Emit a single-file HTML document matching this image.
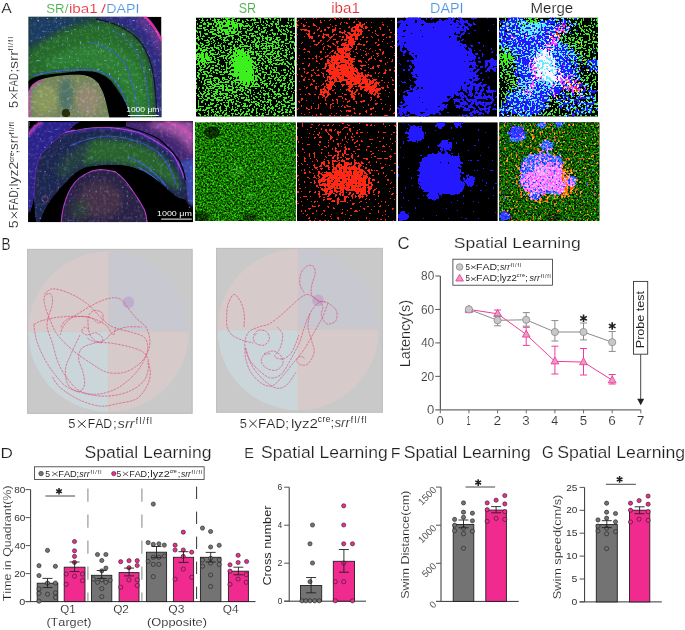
<!DOCTYPE html>
<html><head><meta charset="utf-8"><style>
html,body{margin:0;padding:0;background:#fff;width:685px;height:630px;overflow:hidden}
svg{position:absolute;left:0;top:0;display:block;will-change:transform}
text{font-family:"Liberation Sans", sans-serif;font-variant-ligatures:none;font-kerning:none}
</style></head><body>
<svg width="685" height="630" viewBox="0 0 685 630" font-family='"Liberation Sans", sans-serif'>
<text x="1.2" y="12.8" font-size="15.36" fill="#231f20" textLength="10.53" lengthAdjust="spacingAndGlyphs" stroke="#fff" stroke-width="0.17" >A</text>
<text x="46.3" y="13.0" font-size="13.6" fill="#46aa46" textLength="22.06" lengthAdjust="spacingAndGlyphs" stroke="#fff" stroke-width="0.15" >SR/</text>
<text x="68.91" y="13.0" font-size="13.6" fill="#e62a32" textLength="28.79" lengthAdjust="spacingAndGlyphs" stroke="#fff" stroke-width="0.15" >iba1</text>
<text x="101.0" y="13.0" font-size="13.6" fill="#e62a32" textLength="4.96" lengthAdjust="spacingAndGlyphs" stroke="#fff" stroke-width="0.15" >/</text>
<text x="106.26" y="13.0" font-size="13.6" fill="#4f96e0" textLength="33.17" lengthAdjust="spacingAndGlyphs" stroke="#fff" stroke-width="0.15" >DAPI</text>
<clipPath id="clA1"><rect x="28.5" y="16.7" width="133" height="100.5"/></clipPath>
<filter id="blur1" x="-10%" y="-10%" width="120%" height="120%"><feGaussianBlur stdDeviation="1.5"/></filter>
<filter id="blur2" x="-10%" y="-10%" width="120%" height="120%"><feGaussianBlur stdDeviation="3"/></filter>
<filter id="blur05" x="-10%" y="-10%" width="120%" height="120%"><feGaussianBlur stdDeviation="0.6"/></filter>
<filter id="spkA1" filterUnits="userSpaceOnUse" x="28.5" y="16.7" width="133" height="100.5" color-interpolation-filters="sRGB">
<feTurbulence type="fractalNoise" baseFrequency="0.45" numOctaves="1" seed="31" result="n"/>
<feColorMatrix in="n" type="matrix" values="0 0 0 0 0 0 0 0 0 0 0 0 0 0 0 1 0 0 0 -0.66" result="na"/>
<feComponentTransfer in="na" result="t"><feFuncA type="linear" slope="7" intercept="0"/></feComponentTransfer>
<feComposite in="SourceGraphic" in2="t" operator="in"/>
</filter>
<filter id="grainA" filterUnits="userSpaceOnUse" x="28.5" y="16.7" width="200" height="220" color-interpolation-filters="sRGB">
<feTurbulence type="fractalNoise" baseFrequency="0.3" numOctaves="2" seed="41" result="n"/>
<feColorMatrix in="n" type="matrix" values="0.7 0.3 0 0 -0.5  0.7 0.3 0 0 -0.5  0.7 0.3 0 0 -0.5  0 0 0 0 1" result="nz"/>
<feComposite in="SourceGraphic" in2="nz" operator="arithmetic" k2="1" k3="0.4" k4="0" result="s"/>
<feComposite in="s" in2="SourceAlpha" operator="in"/>
</filter>
<g clip-path="url(#clA1)">
<rect x="28.5" y="16.7" width="133" height="100.5" fill="#000"/>
<g filter="url(#grainA)">
<path d="M28 16 L146 16 Q154 24 162 41 L162 118 L28 118 Z" fill="#1c4034"/>
<path d="M28 16 L105 16 Q75 22 58 32 Q42 42 28 48 Z" fill="#1e3a66" filter="url(#blur2)" opacity="0.9"/>
<path d="M28 52 Q45 40 62 32 Q85 22 105 22 Q128 28 142 45 Q152 62 155 90 L156 118 L131 118 Q126 100 119 90 Q110 78 100 73 Q80 70 58 73 Q42 75 30 80 L28 80 Z" fill="#276a2c" filter="url(#blur2)"/>
<path d="M45 62 Q70 45 100 42 Q125 45 138 66 Q146 85 148 118 L134 118 Q128 96 118 84 Q106 72 90 70 Q66 68 45 70 Z" fill="#2f8234" filter="url(#blur2)" opacity="0.75"/>
<path d="M98 16 L146 16 Q154 24 162 41 L162 118 L157 118 Q156 92 153 70 Q148 48 136 34 Q122 22 100 19 Z" fill="#2e2a80" filter="url(#blur1)"/>
<path d="M140 17 Q152 24 160 40 L162 60 Q156 42 150 32 Q144 24 134 18 Z" fill="#b04aa0" filter="url(#blur2)" opacity="0.7"/>
<path d="M96 19 Q126 24 142 44 Q151 58 154 78 Q156 95 157 117" fill="none" stroke="#160a30" stroke-width="1.1" filter="url(#blur05)"/>
<path d="M33 76 Q60 68 95 70 Q112 74 120 88 Q126 100 129 117" fill="none" stroke="#3a5ad8" stroke-width="1.2" filter="url(#blur05)" opacity="0.9"/>
<path d="M88 42 Q112 46 124 62 Q134 80 138 117" fill="none" stroke="#3a5ad8" stroke-width="1.1" filter="url(#blur05)" opacity="0.8"/>
<path d="M112 30 Q132 40 141 60 Q147 78 149 110" fill="none" stroke="#3a5ad8" stroke-width="1" filter="url(#blur05)" opacity="0.75"/>
<path d="M144 16 Q154 24 162 41" fill="none" stroke="#e02aa8" stroke-width="2.5" filter="url(#blur05)"/>
<path d="M28.4 92 Q30 86 34 83 Q38 80 42 79 Q50 76.5 58 75.8 Q70 74.6 79 74.6 Q86 75 90 76.8 Q95 79 98.3 83 Q101 88 103 92 Q105 97 106.3 103 Q108 110 109.5 118 L28 118 Z" fill="#76845a"/>
<ellipse cx="45" cy="100" rx="13" ry="15" fill="#909e5c" filter="url(#blur2)" opacity="0.75"/>
<ellipse cx="66" cy="96" rx="7" ry="18" fill="#3a6a6a" filter="url(#blur2)" opacity="0.7"/>
<ellipse cx="88" cy="100" rx="12" ry="15" fill="#a08a78" filter="url(#blur2)" opacity="0.7"/>
<path d="M28.4 118 L28.4 92 Q30 86 34 83 Q38 80 42 79" fill="none" stroke="#d02ad0" stroke-width="2.4" filter="url(#blur1)"/>
<ellipse cx="66" cy="113" rx="4.2" ry="4" fill="#2a2a10" filter="url(#blur05)"/>
</g>
<g filter="url(#spkA1)"><path d="M28 16 L146 16 Q154 24 162 41 L162 118 L28 118 Z" fill="#80a8ff"/></g>
<path d="M28 81 Q30 80.5 30.8 79 Q36 76.5 42 75 Q50 74 58 73.5 Q70 72 79 71 Q88 71 93.4 71.6 Q99 72.8 103 75 Q107 77 111 80.7 Q115 86 119 92 Q123 98 125.6 103 Q128.5 109 130.4 118 L109.5 118 Q108 110 106.3 103 Q105 97 103 92 Q101 88 98.3 83 Q95 79 90 76.8 Q86 75 79 74.6 Q70 74.6 58 75.8 Q50 76.5 42 79 Q38 80 34 83 Q30 86 28.4 92 Z" fill="#000" filter="url(#blur05)"/>
</g>
<clipPath id="clA2"><rect x="28.2" y="121" width="164.8" height="101.3"/></clipPath>
<filter id="spkA2" filterUnits="userSpaceOnUse" x="28.2" y="121" width="164.8" height="101.3" color-interpolation-filters="sRGB">
<feTurbulence type="fractalNoise" baseFrequency="0.45" numOctaves="1" seed="33" result="n"/>
<feColorMatrix in="n" type="matrix" values="0 0 0 0 0 0 0 0 0 0 0 0 0 0 0 1 0 0 0 -0.66" result="na"/>
<feComponentTransfer in="na" result="t"><feFuncA type="linear" slope="7" intercept="0"/></feComponentTransfer>
<feComposite in="SourceGraphic" in2="t" operator="in"/>
</filter>
<g clip-path="url(#clA2)">
<rect x="28.2" y="121" width="164.8" height="101.3" fill="#000"/>
<g filter="url(#grainA)">
<path d="M118 121 L194 121 L194 205 L186 200 Q185 185 182 172 Q176 158 165 147 Q150 136 132 130 Q124 128 118 127 Z" fill="#42286e" filter="url(#blur1)"/>
<path d="M150 121 L194 121 L194 160 Q188 146 178 138 Q165 130 150 127 Z" fill="#b05aa8" filter="url(#blur2)" opacity="0.85"/>
<path d="M165 121 Q186 126 193 140" fill="none" stroke="#e050c0" stroke-width="2.2" filter="url(#blur1)"/>
<path d="M180 162 Q186 175 187 190 L188 204 L194 208 L194 158 Z" fill="#3848a8" filter="url(#blur1)"/>
<path d="M64.8 132.3 Q80 128.5 96 127.2 Q120 127 140 133 Q158 141 172 153 Q180 165 184 178 Q186 190 186 200 L177.4 197.4 Q170 192.4 160 182.5 Q150 175 142.6 171.3 Q130 166 120 165 Q100 164.5 85.6 167.6 Q76 171 70.7 177.6 Q60 188 50.8 200 Q44 210 40 222 L36 222 Q34 210 34 198 Q34 185 36 169 Q38 160 41.3 153.8 Q52 142 64.8 132.3 Z" fill="#1e2650" filter="url(#blur05)"/>
<path d="M90 140 Q120 136 148 146 Q165 156 176 172 Q180 182 182 192 Q176 188 168 184 Q156 176 142 170 Q125 164 105 163 Q92 163 82 166 Q84 150 90 140 Z" fill="#2a6a2c" filter="url(#blur2)" opacity="0.9"/>
<path d="M55 172 Q60 158 72 150 Q82 144 92 141 Q86 155 82 166 Q72 172 64 180 Z" fill="#264a38" filter="url(#blur2)" opacity="0.7"/>
<path d="M64.8 132.3 Q80 128.5 96 127.2 Q120 127 140 133 Q158 141 172 153 Q180 165 184 178" fill="none" stroke="#3a2aa0" stroke-width="5" filter="url(#blur1)" opacity="0.8"/>
<path d="M64.8 132.3 Q80 128.5 96 127.2 Q120 127 140 133 Q158 141 172 153 Q180 165 184 178" fill="none" stroke="#b040c0" stroke-width="1.3" filter="url(#blur05)"/>
<path d="M28 133 Q33 125 41 122 L81 121.5 Q76 124 72 127 Q68 129.5 64.8 132.3 Q52 142 41.3 153.8 Q38 160 36 169 Q34 185 34 198 Q33 205 31 210 L28 212 Z" fill="#2a2288" filter="url(#blur05)"/>
<path d="M28 136 Q32 126 42 122" fill="none" stroke="#d040c8" stroke-width="3.2" filter="url(#blur1)"/>
<path d="M80 122 Q70 128 64.8 132.3 Q52 142 41.3 153.8 Q38 160 36 169 Q34 185 34 198" fill="none" stroke="#7a30b0" stroke-width="1" filter="url(#blur05)" opacity="0.8"/>
<path d="M70 146 Q90 136 110 136 Q138 138 158 152 Q170 164 176 184" fill="none" stroke="#3a52d0" stroke-width="1.2" filter="url(#blur05)" opacity="0.8"/>
<path d="M128 157 Q150 165 166 186" fill="none" stroke="#3a5ae0" stroke-width="1.3" filter="url(#blur05)"/>
<path d="M138 167 Q155 175 168 193" fill="none" stroke="#3a5ae0" stroke-width="1.3" filter="url(#blur05)"/>
<path d="M60.7 222 Q62 205 68 192.4 Q74 180 83 175 Q92 169 100.4 168.9 Q108 169 115.3 171.3 Q125 178 132.7 190 Q140 200 145 209.8 Q147 215 147.6 222 Z" fill="#2a2444" filter="url(#blur05)"/>
<ellipse cx="100" cy="200" rx="22" ry="18" fill="#503848" filter="url(#blur2)" opacity="0.7"/>
<ellipse cx="80" cy="210" rx="10" ry="10" fill="#2a4a30" filter="url(#blur2)" opacity="0.6"/>
<path d="M60.7 222 Q62 205 68 192.4 Q74 180 83 175 Q92 169 100.4 168.9 Q108 169 115.3 171.3 Q125 178 132.7 190 Q140 200 145 209.8 Q147 215 147.6 222" fill="none" stroke="#c038d0" stroke-width="2" filter="url(#blur05)"/>
</g>
<g filter="url(#spkA2)" opacity="0.75"><path d="M28 122 L194 122 L194 222 L28 222 Z" fill="#7078ff"/></g>
<path d="M81 121 L126 121 L126 126.6 Q110 126.6 96 127 Q84 128 76 130 Q72 128 72 127 Q76 124 81 121 Z" fill="#000" filter="url(#blur05)"/>
<path d="M118 125.5 Q140 129 158 138.5 Q172 149 180 162 Q184 170 185.5 180" fill="none" stroke="#000" stroke-width="1.2" filter="url(#blur05)"/>
<path d="M28 212 Q32 214 36 222 L28 222 Z" fill="#000" filter="url(#blur05)"/>
<path d="M40 222 Q44 210 50.8 200 Q60 188 70.7 177.6 Q78 170 88 167 Q100 164.5 120 165 Q132 166 142.6 171.3 Q152 176 160 182.5 Q170 192.4 177.4 197.4 Q182 201 186 204 L190 210 L194 212 L194 222 L147.6 222 Q147 215 145 209.8 Q140 200 132.7 190 Q125 178 115.3 171.3 Q108 169 100.4 168.9 Q92 169 83 175 Q74 180 68 192.4 Q62 205 60.7 222 Z" fill="#000" filter="url(#blur05)"/>
<circle cx="45" cy="199" r="3.2" fill="none" stroke="#a05a8a" stroke-width="0.6"/>
</g>
<text x="126.2" y="112.4" font-size="7.4" fill="#fff" textLength="33.2" lengthAdjust="spacingAndGlyphs">1000 μm</text>
<rect x="127.9" y="115" width="30.9" height="1" fill="#fff"/>
<text x="157" y="215.5" font-size="7.4" fill="#fff" textLength="34.8" lengthAdjust="spacingAndGlyphs">1000 μm</text>
<rect x="161.2" y="218.6" width="30.6" height="1" fill="#fff"/><defs>
<clipPath id="cl_sr1"><rect x="196" y="17.5" width="99" height="99.2"/></clipPath>
<clipPath id="cl_ib1"><rect x="296.5" y="17.5" width="98.5" height="99.2"/></clipPath>
<clipPath id="cl_da1"><rect x="397" y="17.5" width="100" height="99.2"/></clipPath>
<clipPath id="cl_me1"><rect x="499" y="17.5" width="99" height="99.2"/></clipPath>
<clipPath id="cl_sr2"><rect x="194.9" y="122.2" width="101" height="98.8"/></clipPath>
<clipPath id="cl_ib2"><rect x="297" y="122.2" width="99.5" height="98.8"/></clipPath>
<clipPath id="cl_da2"><rect x="397.8" y="122.2" width="100" height="98.8"/></clipPath>
<clipPath id="cl_me2"><rect x="499.2" y="122.2" width="100.2" height="98.8"/></clipPath>
</defs>
<g clip-path="url(#cl_sr1)">
<rect x="196" y="17.5" width="99" height="99.2" fill="#000"/>
<filter id="f_sr1" filterUnits="userSpaceOnUse" x="-1" y="-1" width="101" height="102" color-interpolation-filters="sRGB">
<feGaussianBlur in="SourceAlpha" stdDeviation="3.2" result="d"/>
<feTurbulence type="fractalNoise" baseFrequency="0.5" numOctaves="1" seed="4" result="n"/>
<feColorMatrix in="n" type="matrix" values="0 0 0 0 0 0 0 0 0 0 0 0 0 0 0 1 0 0 0 0" result="na"/>
<feComposite in="d" in2="na" operator="arithmetic" k1="0" k2="0.35" k3="1" k4="-0.1" result="s"/>
<feComponentTransfer in="s" result="t"><feFuncA type="discrete" tableValues="0 1"/></feComponentTransfer>
<feFlood flood-color="#3cf01e" result="c"/>
<feComposite in="c" in2="t" operator="in"/>
</filter>
<g filter="url(#f_sr1)" transform="translate(196 17.5)" fill="#000">
<rect x="0" y="0" width="99" height="100" fill-opacity="0"/>
<rect x="0" y="0" width="99" height="100" fill-opacity="0.17"/>
<ellipse cx="47" cy="49.5" rx="10" ry="18" fill-opacity="0.85" transform="rotate(-12 47 49.5)"/>
<ellipse cx="50" cy="55" rx="6" ry="8" fill-opacity="0.4" transform="rotate(0 50 55)"/>
<ellipse cx="32" cy="9" rx="13" ry="7" fill-opacity="0.5" transform="rotate(0 32 9)"/>
<ellipse cx="7" cy="40" rx="8" ry="9" fill-opacity="0.45" transform="rotate(0 7 40)"/>
<ellipse cx="25" cy="72" rx="15" ry="10" fill-opacity="0.2" transform="rotate(0 25 72)"/>
<ellipse cx="70" cy="30" rx="14" ry="12" fill-opacity="0.15" transform="rotate(0 70 30)"/>
</g>
</g>
<g clip-path="url(#cl_ib1)">
<rect x="296.5" y="17.5" width="98.5" height="99.2" fill="#000"/>
<filter id="f_ib1" filterUnits="userSpaceOnUse" x="-1" y="-1" width="101" height="102" color-interpolation-filters="sRGB">
<feGaussianBlur in="SourceAlpha" stdDeviation="2.2" result="d"/>
<feTurbulence type="fractalNoise" baseFrequency="0.42" numOctaves="1" seed="7" result="n"/>
<feColorMatrix in="n" type="matrix" values="0 0 0 0 0 0 0 0 0 0 0 0 0 0 0 1 0 0 0 0" result="na"/>
<feComposite in="d" in2="na" operator="arithmetic" k1="0" k2="0.3" k3="1" k4="-0.165" result="s"/>
<feComponentTransfer in="s" result="t"><feFuncA type="discrete" tableValues="0 1"/></feComponentTransfer>
<feFlood flood-color="#ff2814" result="c"/>
<feComposite in="c" in2="t" operator="in"/>
</filter>
<g filter="url(#f_ib1)" transform="translate(296.5 17.5)" fill="#000">
<rect x="0" y="0" width="99" height="100" fill-opacity="0"/>
<path d="M62 4 L69 8 L54 31 L46 42 L36 40 L50 22 Z" fill-opacity="1"/>
<ellipse cx="44" cy="50" rx="14" ry="15" fill-opacity="1" transform="rotate(0 44 50)"/>
<path d="M40 40 L60 54 L75 61 L85 72 L80 79 L66 71 L50 63 Z" fill-opacity="1"/>
<path d="M36 55 L27 68 L23 79 L30 81 L39 66 Z" fill-opacity="0.8"/>
<path d="M48 58 L54 80 L60 86 L58 70 Z" fill-opacity="0.7"/>
<path d="M1 7 L18 28 L21 24 L6 3 Z" fill-opacity="0.6"/>
<ellipse cx="50" cy="52" rx="42" ry="42" fill-opacity="0.15" transform="rotate(0 50 52)"/>
<ellipse cx="40" cy="15" rx="25" ry="10" fill-opacity="0.15" transform="rotate(0 40 15)"/>
</g>
</g>
<g clip-path="url(#cl_da1)">
<rect x="397" y="17.5" width="100" height="99.2" fill="#000"/>
<filter id="f_da1" filterUnits="userSpaceOnUse" x="-1" y="-1" width="102" height="102" color-interpolation-filters="sRGB">
<feGaussianBlur in="SourceAlpha" stdDeviation="3" result="d"/>
<feTurbulence type="fractalNoise" baseFrequency="0.33" numOctaves="1" seed="11" result="n"/>
<feColorMatrix in="n" type="matrix" values="0 0 0 0 0 0 0 0 0 0 0 0 0 0 0 1 0 0 0 0" result="na"/>
<feComposite in="d" in2="na" operator="arithmetic" k1="0" k2="0.5" k3="1" k4="-0.2" result="s"/>
<feComponentTransfer in="s" result="t"><feFuncA type="discrete" tableValues="0 1"/></feComponentTransfer>
<feFlood flood-color="#2418ff" result="c"/>
<feComposite in="c" in2="t" operator="in"/>
</filter>
<g filter="url(#f_da1)" transform="translate(397 17.5)" fill="#000">
<rect x="0" y="0" width="100" height="100" fill-opacity="0"/>
<ellipse cx="44" cy="48" rx="28" ry="32" fill-opacity="1" transform="rotate(0 44 48)"/>
<ellipse cx="18" cy="18" rx="20" ry="18" fill-opacity="0.8" transform="rotate(0 18 18)"/>
<ellipse cx="44" cy="12" rx="14" ry="9" fill-opacity="0.75" transform="rotate(0 44 12)"/>
<ellipse cx="28" cy="84" rx="22" ry="15" fill-opacity="0.85" transform="rotate(0 28 84)"/>
<ellipse cx="58" cy="8" rx="18" ry="9" fill-opacity="0.6" transform="rotate(0 58 8)"/>
<ellipse cx="78" cy="82" rx="22" ry="18" fill-opacity="0.45" transform="rotate(0 78 82)"/>
<ellipse cx="95" cy="47" rx="6" ry="7" fill-opacity="0.9" transform="rotate(0 95 47)"/>
<ellipse cx="74" cy="50" rx="10" ry="22" fill-opacity="0.5" transform="rotate(0 74 50)"/>
<ellipse cx="5" cy="95" rx="8" ry="8" fill-opacity="0.5" transform="rotate(0 5 95)"/>
</g>
</g>
<g clip-path="url(#cl_sr2)">
<rect x="194.9" y="122.2" width="101" height="98.8" fill="#000"/>
<filter id="f_sr2" filterUnits="userSpaceOnUse" x="194.9" y="122.2" width="101" height="99" color-interpolation-filters="sRGB">
<feTurbulence type="fractalNoise" baseFrequency="0.55" numOctaves="2" seed="21" result="n"/>
<feColorMatrix in="n" type="matrix" values="0.374 0 0 0 -0.103  1.7 0 0 0 -0.47  0 0 0 0 0  0 0 0 0 1" result="g"/>
<feComposite in="g" in2="SourceGraphic" operator="arithmetic" k1="0" k2="1" k3="1" k4="0" result="s"/>
<feComposite in="s" in2="SourceAlpha" operator="in"/>
</filter>
<g filter="url(#f_sr2)"><rect x="194.9" y="122.2" width="101" height="99" fill="#001400"/></g>
<g transform="translate(194.9 122.2)" fill="#4c4" style="mix-blend-mode:screen" opacity="0.22">
<ellipse cx="42" cy="48" rx="7" ry="6"/><ellipse cx="55" cy="74" rx="4" ry="4"/>
</g>
<g transform="translate(194.9 122.2)" fill="#000">
<ellipse cx="17" cy="10" rx="8" ry="6" opacity="0.6"/>
<ellipse cx="6" cy="95" rx="8" ry="6" opacity="0.5"/>
<ellipse cx="55" cy="95" rx="8" ry="4" opacity="0.4"/>
</g>
</g>
<g clip-path="url(#cl_ib2)">
<rect x="297" y="122.2" width="99.5" height="98.8" fill="#000"/>
<filter id="f_ib2" filterUnits="userSpaceOnUse" x="-1" y="-1" width="102" height="101" color-interpolation-filters="sRGB">
<feGaussianBlur in="SourceAlpha" stdDeviation="2.5" result="d"/>
<feTurbulence type="fractalNoise" baseFrequency="0.42" numOctaves="1" seed="13" result="n"/>
<feColorMatrix in="n" type="matrix" values="0 0 0 0 0 0 0 0 0 0 0 0 0 0 0 1 0 0 0 0" result="na"/>
<feComposite in="d" in2="na" operator="arithmetic" k1="0" k2="0.3" k3="1" k4="-0.165" result="s"/>
<feComponentTransfer in="s" result="t"><feFuncA type="discrete" tableValues="0 1"/></feComponentTransfer>
<feFlood flood-color="#ff2814" result="c"/>
<feComposite in="c" in2="t" operator="in"/>
</filter>
<g filter="url(#f_ib2)" transform="translate(297 122.2)" fill="#000">
<rect x="0" y="0" width="100" height="99" fill-opacity="0"/>
<ellipse cx="52" cy="55" rx="17" ry="13" fill-opacity="1" transform="rotate(25 52 55)"/>
<ellipse cx="35" cy="60" rx="11" ry="11" fill-opacity="0.9" transform="rotate(0 35 60)"/>
<ellipse cx="66" cy="65" rx="9" ry="9" fill-opacity="0.95" transform="rotate(0 66 65)"/>
<ellipse cx="46" cy="55" rx="30" ry="28" fill-opacity="0.4" transform="rotate(0 46 55)"/>
<ellipse cx="40" cy="15" rx="25" ry="10" fill-opacity="0.2" transform="rotate(0 40 15)"/>
</g>
</g>
<g clip-path="url(#cl_da2)">
<rect x="397.8" y="122.2" width="100" height="98.8" fill="#000"/>
<filter id="f_da2" filterUnits="userSpaceOnUse" x="-1" y="-1" width="102" height="101" color-interpolation-filters="sRGB">
<feGaussianBlur in="SourceAlpha" stdDeviation="1.4" result="d"/>
<feTurbulence type="fractalNoise" baseFrequency="0.4" numOctaves="1" seed="17" result="n"/>
<feColorMatrix in="n" type="matrix" values="0 0 0 0 0 0 0 0 0 0 0 0 0 0 0 1 0 0 0 0" result="na"/>
<feComposite in="d" in2="na" operator="arithmetic" k1="0" k2="0.5" k3="1" k4="-0.23" result="s"/>
<feComponentTransfer in="s" result="t"><feFuncA type="discrete" tableValues="0 1"/></feComponentTransfer>
<feFlood flood-color="#2418ff" result="c"/>
<feComposite in="c" in2="t" operator="in"/>
</filter>
<g filter="url(#f_da2)" transform="translate(397.8 122.2)" fill="#000">
<rect x="0" y="0" width="100" height="99" fill-opacity="0"/>
<ellipse cx="17.6" cy="11.8" rx="8.5" ry="8.5" fill-opacity="1" transform="rotate(0 17.6 11.8)"/>
<ellipse cx="47.6" cy="23.1" rx="5.8" ry="5.8" fill-opacity="1" transform="rotate(0 47.6 23.1)"/>
<ellipse cx="42.7" cy="1.5" rx="4.5" ry="4.5" fill-opacity="1" transform="rotate(0 42.7 1.5)"/>
<ellipse cx="59.7" cy="0.8" rx="4.5" ry="4.5" fill-opacity="1" transform="rotate(0 59.7 0.8)"/>
<ellipse cx="71.9" cy="58.8" rx="5.5" ry="5.5" fill-opacity="1" transform="rotate(0 71.9 58.8)"/>
<ellipse cx="35.5" cy="72.5" rx="6" ry="6" fill-opacity="1" transform="rotate(0 35.5 72.5)"/>
<ellipse cx="5.5" cy="94.4" rx="5" ry="5" fill-opacity="1" transform="rotate(0 5.5 94.4)"/>
<ellipse cx="42" cy="51" rx="21" ry="21" fill-opacity="1" transform="rotate(0 42 51)"/>
<ellipse cx="32" cy="42" rx="10" ry="9" fill-opacity="1" transform="rotate(0 32 42)"/>
<ellipse cx="55" cy="40" rx="9" ry="8" fill-opacity="1" transform="rotate(0 55 40)"/>
<ellipse cx="56" cy="64" rx="10" ry="9" fill-opacity="1" transform="rotate(0 56 64)"/>
<ellipse cx="30" cy="62" rx="9" ry="8" fill-opacity="1" transform="rotate(0 30 62)"/>
</g>
</g>
<g clip-path="url(#cl_me1)"><rect x="499" y="17.5" width="99" height="99.2" fill="#000"/>
<g style="isolation:isolate">
<filter id="fm_sr1" filterUnits="userSpaceOnUse" x="-1" y="-1" width="101" height="102" color-interpolation-filters="sRGB">
<feGaussianBlur in="SourceAlpha" stdDeviation="3.2" result="d"/>
<feTurbulence type="fractalNoise" baseFrequency="0.5" numOctaves="1" seed="4" result="n"/>
<feColorMatrix in="n" type="matrix" values="0 0 0 0 0 0 0 0 0 0 0 0 0 0 0 1 0 0 0 0" result="na"/>
<feComposite in="d" in2="na" operator="arithmetic" k1="0" k2="0.35" k3="1" k4="-0.11" result="s"/>
<feComponentTransfer in="s" result="t"><feFuncA type="discrete" tableValues="0 1"/></feComponentTransfer>
<feFlood flood-color="#3cf01e" result="c"/>
<feComposite in="c" in2="t" operator="in"/>
</filter>
<g filter="url(#fm_sr1)" transform="translate(499 17.5)" fill="#000">
<rect x="0" y="0" width="99" height="100" fill-opacity="0"/>
<rect x="0" y="0" width="99" height="100" fill-opacity="0.17"/>
<ellipse cx="47" cy="49.5" rx="10" ry="18" fill-opacity="0.85" transform="rotate(-12 47 49.5)"/>
<ellipse cx="50" cy="55" rx="6" ry="8" fill-opacity="0.4" transform="rotate(0 50 55)"/>
<ellipse cx="32" cy="9" rx="13" ry="7" fill-opacity="0.5" transform="rotate(0 32 9)"/>
<ellipse cx="7" cy="40" rx="8" ry="9" fill-opacity="0.45" transform="rotate(0 7 40)"/>
<ellipse cx="25" cy="72" rx="15" ry="10" fill-opacity="0.2" transform="rotate(0 25 72)"/>
<ellipse cx="70" cy="30" rx="14" ry="12" fill-opacity="0.15" transform="rotate(0 70 30)"/>
</g>
<g style="mix-blend-mode:screen">
<filter id="fm_ib1" filterUnits="userSpaceOnUse" x="-1" y="-1" width="101" height="102" color-interpolation-filters="sRGB">
<feGaussianBlur in="SourceAlpha" stdDeviation="2.2" result="d"/>
<feTurbulence type="fractalNoise" baseFrequency="0.42" numOctaves="1" seed="7" result="n"/>
<feColorMatrix in="n" type="matrix" values="0 0 0 0 0 0 0 0 0 0 0 0 0 0 0 1 0 0 0 0" result="na"/>
<feComposite in="d" in2="na" operator="arithmetic" k1="0" k2="0.3" k3="1" k4="-0.245" result="s"/>
<feComponentTransfer in="s" result="t"><feFuncA type="discrete" tableValues="0 1"/></feComponentTransfer>
<feFlood flood-color="#ff2814" result="c"/>
<feComposite in="c" in2="t" operator="in"/>
</filter>
<g filter="url(#fm_ib1)" transform="translate(499 17.5)" fill="#000">
<rect x="0" y="0" width="99" height="100" fill-opacity="0"/>
<path d="M62 4 L69 8 L54 31 L46 42 L36 40 L50 22 Z" fill-opacity="1"/>
<ellipse cx="44" cy="50" rx="14" ry="15" fill-opacity="1" transform="rotate(0 44 50)"/>
<path d="M40 40 L60 54 L75 61 L85 72 L80 79 L66 71 L50 63 Z" fill-opacity="1"/>
<path d="M36 55 L27 68 L23 79 L30 81 L39 66 Z" fill-opacity="0.8"/>
<path d="M48 58 L54 80 L60 86 L58 70 Z" fill-opacity="0.7"/>
<path d="M1 7 L18 28 L21 24 L6 3 Z" fill-opacity="0.6"/>
<ellipse cx="50" cy="52" rx="42" ry="42" fill-opacity="0.15" transform="rotate(0 50 52)"/>
<ellipse cx="40" cy="15" rx="25" ry="10" fill-opacity="0.15" transform="rotate(0 40 15)"/>
</g>
</g>
<g style="mix-blend-mode:screen">
<filter id="fm_da1" filterUnits="userSpaceOnUse" x="-1" y="-1" width="102" height="102" color-interpolation-filters="sRGB">
<feGaussianBlur in="SourceAlpha" stdDeviation="3" result="d"/>
<feTurbulence type="fractalNoise" baseFrequency="0.33" numOctaves="1" seed="11" result="n"/>
<feColorMatrix in="n" type="matrix" values="0 0 0 0 0 0 0 0 0 0 0 0 0 0 0 1 0 0 0 0" result="na"/>
<feComposite in="d" in2="na" operator="arithmetic" k1="0" k2="0.5" k3="1" k4="-0.22" result="s"/>
<feComponentTransfer in="s" result="t"><feFuncA type="discrete" tableValues="0 1"/></feComponentTransfer>
<feFlood flood-color="#2418ff" result="c"/>
<feComposite in="c" in2="t" operator="in"/>
</filter>
<g filter="url(#fm_da1)" transform="translate(499 17.5)" fill="#000">
<rect x="0" y="0" width="100" height="100" fill-opacity="0"/>
<ellipse cx="44" cy="48" rx="28" ry="32" fill-opacity="1" transform="rotate(0 44 48)"/>
<ellipse cx="18" cy="18" rx="20" ry="18" fill-opacity="0.8" transform="rotate(0 18 18)"/>
<ellipse cx="44" cy="12" rx="14" ry="9" fill-opacity="0.75" transform="rotate(0 44 12)"/>
<ellipse cx="28" cy="84" rx="22" ry="15" fill-opacity="0.85" transform="rotate(0 28 84)"/>
<ellipse cx="58" cy="8" rx="18" ry="9" fill-opacity="0.6" transform="rotate(0 58 8)"/>
<ellipse cx="78" cy="82" rx="22" ry="18" fill-opacity="0.45" transform="rotate(0 78 82)"/>
<ellipse cx="95" cy="47" rx="6" ry="7" fill-opacity="0.9" transform="rotate(0 95 47)"/>
<ellipse cx="74" cy="50" rx="10" ry="22" fill-opacity="0.5" transform="rotate(0 74 50)"/>
<ellipse cx="5" cy="95" rx="8" ry="8" fill-opacity="0.5" transform="rotate(0 5 95)"/>
</g>
</g>
</g></g>
<g clip-path="url(#cl_me2)"><rect x="499.2" y="122.2" width="100.2" height="98.8" fill="#000"/>
<g style="isolation:isolate">
<filter id="fm_sr2" filterUnits="userSpaceOnUse" x="499.2" y="122.2" width="101" height="99" color-interpolation-filters="sRGB">
<feTurbulence type="fractalNoise" baseFrequency="0.55" numOctaves="2" seed="21" result="n"/>
<feColorMatrix in="n" type="matrix" values="0.374 0 0 0 -0.125  1.7 0 0 0 -0.57  0 0 0 0 0  0 0 0 0 1" result="g"/>
<feComposite in="g" in2="SourceGraphic" operator="arithmetic" k1="0" k2="1" k3="1" k4="0" result="s"/>
<feComposite in="s" in2="SourceAlpha" operator="in"/>
</filter>
<g filter="url(#fm_sr2)"><rect x="499.2" y="122.2" width="101" height="99" fill="#001400"/></g>
<g transform="translate(499.2 122.2)" fill="#4c4" style="mix-blend-mode:screen" opacity="0.22">
<ellipse cx="42" cy="48" rx="7" ry="6"/><ellipse cx="55" cy="74" rx="4" ry="4"/>
</g>
<g transform="translate(499.2 122.2)" fill="#000">
<ellipse cx="17" cy="10" rx="8" ry="6" opacity="0.6"/>
<ellipse cx="6" cy="95" rx="8" ry="6" opacity="0.5"/>
<ellipse cx="55" cy="95" rx="8" ry="4" opacity="0.4"/>
</g>
<g style="mix-blend-mode:screen">
<filter id="fm_ib2" filterUnits="userSpaceOnUse" x="-1" y="-1" width="102" height="101" color-interpolation-filters="sRGB">
<feGaussianBlur in="SourceAlpha" stdDeviation="2.5" result="d"/>
<feTurbulence type="fractalNoise" baseFrequency="0.42" numOctaves="1" seed="13" result="n"/>
<feColorMatrix in="n" type="matrix" values="0 0 0 0 0 0 0 0 0 0 0 0 0 0 0 1 0 0 0 0" result="na"/>
<feComposite in="d" in2="na" operator="arithmetic" k1="0" k2="0.3" k3="1" k4="-0.165" result="s"/>
<feComponentTransfer in="s" result="t"><feFuncA type="discrete" tableValues="0 1"/></feComponentTransfer>
<feFlood flood-color="#ff2814" result="c"/>
<feComposite in="c" in2="t" operator="in"/>
</filter>
<g filter="url(#fm_ib2)" transform="translate(499.2 122.2)" fill="#000">
<rect x="0" y="0" width="100" height="99" fill-opacity="0"/>
<ellipse cx="52" cy="55" rx="17" ry="13" fill-opacity="1" transform="rotate(25 52 55)"/>
<ellipse cx="35" cy="60" rx="11" ry="11" fill-opacity="0.9" transform="rotate(0 35 60)"/>
<ellipse cx="66" cy="65" rx="9" ry="9" fill-opacity="0.95" transform="rotate(0 66 65)"/>
<ellipse cx="46" cy="55" rx="30" ry="28" fill-opacity="0.4" transform="rotate(0 46 55)"/>
<ellipse cx="40" cy="15" rx="25" ry="10" fill-opacity="0.2" transform="rotate(0 40 15)"/>
</g>
</g>
<g style="mix-blend-mode:screen">
<filter id="fm_da2" filterUnits="userSpaceOnUse" x="-1" y="-1" width="102" height="101" color-interpolation-filters="sRGB">
<feGaussianBlur in="SourceAlpha" stdDeviation="1.4" result="d"/>
<feTurbulence type="fractalNoise" baseFrequency="0.4" numOctaves="1" seed="17" result="n"/>
<feColorMatrix in="n" type="matrix" values="0 0 0 0 0 0 0 0 0 0 0 0 0 0 0 1 0 0 0 0" result="na"/>
<feComposite in="d" in2="na" operator="arithmetic" k1="0" k2="0.5" k3="1" k4="-0.23" result="s"/>
<feComponentTransfer in="s" result="t"><feFuncA type="discrete" tableValues="0 1"/></feComponentTransfer>
<feFlood flood-color="#2418ff" result="c"/>
<feComposite in="c" in2="t" operator="in"/>
</filter>
<g filter="url(#fm_da2)" transform="translate(499.2 122.2)" fill="#000">
<rect x="0" y="0" width="100" height="99" fill-opacity="0"/>
<ellipse cx="17.6" cy="11.8" rx="8.5" ry="8.5" fill-opacity="1" transform="rotate(0 17.6 11.8)"/>
<ellipse cx="47.6" cy="23.1" rx="5.8" ry="5.8" fill-opacity="1" transform="rotate(0 47.6 23.1)"/>
<ellipse cx="42.7" cy="1.5" rx="4.5" ry="4.5" fill-opacity="1" transform="rotate(0 42.7 1.5)"/>
<ellipse cx="59.7" cy="0.8" rx="4.5" ry="4.5" fill-opacity="1" transform="rotate(0 59.7 0.8)"/>
<ellipse cx="71.9" cy="58.8" rx="5.5" ry="5.5" fill-opacity="1" transform="rotate(0 71.9 58.8)"/>
<ellipse cx="35.5" cy="72.5" rx="6" ry="6" fill-opacity="1" transform="rotate(0 35.5 72.5)"/>
<ellipse cx="5.5" cy="94.4" rx="5" ry="5" fill-opacity="1" transform="rotate(0 5.5 94.4)"/>
<ellipse cx="42" cy="51" rx="21" ry="21" fill-opacity="1" transform="rotate(0 42 51)"/>
<ellipse cx="32" cy="42" rx="10" ry="9" fill-opacity="1" transform="rotate(0 32 42)"/>
<ellipse cx="55" cy="40" rx="9" ry="8" fill-opacity="1" transform="rotate(0 55 40)"/>
<ellipse cx="56" cy="64" rx="10" ry="9" fill-opacity="1" transform="rotate(0 56 64)"/>
<ellipse cx="30" cy="62" rx="9" ry="8" fill-opacity="1" transform="rotate(0 30 62)"/>
</g>
</g>
</g></g>
<text x="238.63" y="13.3" font-size="13.71" fill="#46aa46" textLength="17.49" lengthAdjust="spacingAndGlyphs" stroke="#fff" stroke-width="0.15" >SR</text>
<text x="331.21" y="13.3" font-size="14.07" fill="#e62a32" textLength="28.68" lengthAdjust="spacingAndGlyphs" stroke="#fff" stroke-width="0.15" >iba1</text>
<text x="430.05" y="13.3" font-size="13.91" fill="#4f96e0" textLength="33.5" lengthAdjust="spacingAndGlyphs" stroke="#fff" stroke-width="0.15" >DAPI</text>
<text x="530.49" y="13.3" font-size="13.91" fill="#231f20" textLength="42.78" lengthAdjust="spacingAndGlyphs" stroke="#fff" stroke-width="0.15" >Merge</text>
<text transform="translate(17.8 107.5) rotate(-90)" x="-0.51" y="0" font-size="12.0" fill="#231f20" textLength="7.03" lengthAdjust="spacingAndGlyphs" stroke="#fff" stroke-width="0.13" >5</text>
<path d="M11.50 93.30L17.00 98.80M17.00 93.30L11.50 98.80" stroke="#231f20" stroke-width="0.85" fill="none"/>
<text transform="translate(17.8 91.2) rotate(-90)" x="-0.76" y="0" font-size="12.0" fill="#231f20" textLength="18.59" lengthAdjust="spacingAndGlyphs" stroke="#fff" stroke-width="0.13" >FAD</text>
<text transform="translate(17.8 72.0) rotate(-90)" x="-0.13" y="0" font-size="12.0" fill="#231f20" stroke="#fff" stroke-width="0.13" >;</text>
<text transform="translate(17.8 68.3) rotate(-90)" x="-0.47" y="0" font-size="12.0" fill="#231f20" textLength="18.12" lengthAdjust="spacingAndGlyphs" stroke="#fff" stroke-width="0.13" >srr</text>
<text transform="translate(13.2 50.3) rotate(-90)" x="-0.16" y="0" font-size="6.6" fill="#231f20" textLength="13.37" lengthAdjust="spacing" >fl/fl</text>
<text transform="translate(17.8 227.6) rotate(-90)" x="-0.57" y="0" font-size="12.6" fill="#231f20" textLength="7.96" lengthAdjust="spacingAndGlyphs" stroke="#fff" stroke-width="0.14" >5</text>
<path d="M11.50 211.90L16.90 218.20M16.90 211.90L11.50 218.20" stroke="#231f20" stroke-width="0.85" fill="none"/>
<text transform="translate(17.8 209.4) rotate(-90)" x="-0.81" y="0" font-size="12.6" fill="#231f20" textLength="19.77" lengthAdjust="spacingAndGlyphs" stroke="#fff" stroke-width="0.14" >FAD</text>
<text transform="translate(17.8 190.0) rotate(-90)" x="-0.26" y="0" font-size="12.6" fill="#231f20" stroke="#fff" stroke-width="0.14" >;</text>
<text transform="translate(17.8 185.6) rotate(-90)" x="-0.91" y="0" font-size="12.6" fill="#231f20" textLength="24.85" lengthAdjust="spacingAndGlyphs" stroke="#fff" stroke-width="0.14" >lyz2</text>
<text transform="translate(14.0 161.9) rotate(-90)" x="-0.28" y="0" font-size="6.8" fill="#231f20" textLength="9.69" lengthAdjust="spacing" >cre</text>
<text transform="translate(17.8 152.4) rotate(-90)" x="-1.2" y="0" font-size="12.0" fill="#231f20" textLength="19.25" lengthAdjust="spacingAndGlyphs" stroke="#fff" stroke-width="0.13" >;srr</text>
<text transform="translate(13.6 134.0) rotate(-90)" x="-0.14" y="0" font-size="7.0" fill="#231f20" textLength="12.08" lengthAdjust="spacing" >fl/fl</text>
<text x="1.52" y="249.9" font-size="15.94" fill="#231f20" textLength="8.98" lengthAdjust="spacingAndGlyphs" stroke="#fff" stroke-width="0.18" >B</text>
<rect x="27.0" y="248.9" width="165.6" height="164.9" fill="#c9c9c9"/>
<rect x="27.5" y="249.4" width="164.6" height="163.9" fill="none" stroke="#bfbfbf" stroke-width="1"/>
<clipPath id="c27"><circle cx="108.6" cy="331.6" r="80.3"/></clipPath>
<g clip-path="url(#c27)">
<rect x="28.299999999999997" y="251.3" width="80.3" height="80.3" fill="#d6cacb"/>
<rect x="108.6" y="251.3" width="80.3" height="80.3" fill="#c8c8d0"/>
<rect x="28.299999999999997" y="331.6" width="80.3" height="80.3" fill="#cad6d9"/>
<rect x="108.6" y="331.6" width="80.3" height="80.3" fill="#d6cbca"/>
<line x1="108.6" y1="251.3" x2="108.6" y2="411.90000000000003" stroke="#dcc4b4" stroke-width="0.6"/>
<line x1="28.299999999999997" y1="331.6" x2="188.89999999999998" y2="331.6" stroke="#dcc4b4" stroke-width="0.6"/>
</g>
<circle cx="128.4" cy="302.4" r="5.8" fill="#bcaacb" opacity="0.9"/>
<path d="M60.8 327.1C61.6 326.0 63.4 322.1 65.5 320.5C67.6 318.8 69.5 317.6 73.4 317.0C77.4 316.5 85.1 316.0 89.2 317.0C93.4 318.0 96.2 322.7 98.5 323.1C100.7 323.5 102.4 321.4 102.9 319.7C103.5 317.9 103.4 314.1 101.9 312.6C100.4 311.1 96.3 310.0 94.0 310.7C91.7 311.5 89.0 313.4 88.2 317.0C87.4 320.6 88.3 328.5 89.2 332.3C90.2 336.1 92.0 337.9 94.0 339.7C96.0 341.5 99.7 343.2 101.1 342.9C102.5 342.5 103.3 339.3 102.4 337.6C101.5 335.9 98.4 333.3 95.8 332.8C93.3 332.4 89.5 335.1 87.1 335.0C84.8 334.8 82.3 333.1 81.9 331.8C81.4 330.5 83.3 327.4 84.5 327.1C85.7 326.7 88.5 329.2 89.2 329.7 M44.4 294.1C45.8 293.2 48.4 289.1 52.4 288.8C56.3 288.6 62.5 290.4 68.2 292.8C73.9 295.2 80.9 298.9 86.6 303.3C92.3 307.7 98.0 315.2 102.4 319.1C106.8 323.1 108.1 324.9 113.0 327.1C117.8 329.2 126.1 330.6 131.4 332.3C136.7 334.1 141.9 334.7 144.6 337.6C147.3 340.4 148.2 345.5 147.7 349.4C147.3 353.4 145.5 357.6 141.9 361.3C138.3 365.0 131.8 370.0 126.1 371.8C120.4 373.7 113.4 373.7 107.7 372.4C102.0 371.1 97.6 367.5 91.9 363.9C86.2 360.3 79.1 355.6 73.4 350.8C67.7 345.9 61.6 340.2 57.6 335.0C53.7 329.7 51.9 324.4 49.7 319.1C47.5 313.9 45.2 307.3 44.4 303.3C43.7 299.4 43.9 297.0 45.0 295.4C46.1 293.9 49.8 292.8 51.0 294.1C52.3 295.4 52.8 299.6 52.4 303.3C51.9 307.1 49.1 314.3 48.4 316.5 M48.4 316.5C48.2 318.3 46.4 322.7 47.1 327.1C47.7 331.4 50.6 337.2 52.4 342.9C54.1 348.6 55.4 355.8 57.6 361.3C59.8 366.8 62.0 371.0 65.5 375.8C69.0 380.6 73.4 387.2 78.7 390.3C84.0 393.4 90.6 394.7 97.1 394.2C103.7 393.8 111.6 391.4 118.2 387.7C124.8 383.9 131.8 377.6 136.7 371.8C141.5 366.1 145.0 358.7 147.2 353.4C149.4 348.1 150.1 344.6 149.8 340.2C149.6 335.8 148.1 330.7 145.9 327.1C143.7 323.5 139.7 321.9 136.7 318.6C133.6 315.3 130.1 310.5 127.4 307.3C124.8 304.1 123.7 300.9 120.9 299.4C118.0 297.8 114.9 297.2 110.3 298.1C105.7 298.9 99.8 301.2 93.2 304.7C86.6 308.1 75.8 314.9 70.8 318.6C65.7 322.4 64.6 324.3 62.9 327.1C61.1 329.8 60.7 333.6 60.3 335.0 M33.9 324.4C35.2 323.8 37.4 322.0 41.8 320.7C46.2 319.5 52.8 317.7 60.3 317.0C67.7 316.4 79.1 315.8 86.6 317.0C94.1 318.3 100.7 321.4 105.1 324.4C109.4 327.4 111.2 334.5 113.0 335.0C114.7 335.4 115.2 328.4 115.6 327.1 M33.9 324.4C34.3 327.1 34.8 334.5 36.5 340.2C38.3 345.9 41.4 353.0 44.4 358.7C47.5 364.4 51.0 369.7 55.0 374.5C58.9 379.3 62.0 384.2 68.2 387.7C74.3 391.1 84.4 393.7 91.9 395.0C99.3 396.4 106.4 396.4 113.0 395.6C119.5 394.8 126.1 392.9 131.4 390.3C136.7 387.7 141.7 384.1 144.6 379.8C147.5 375.4 148.8 368.3 148.8 363.9C148.8 359.6 147.0 356.0 144.6 353.4C142.1 350.8 139.3 349.8 134.0 348.1C128.8 346.5 119.5 344.4 113.0 343.4C106.5 342.3 99.3 342.7 95.0 341.8C90.7 340.9 88.5 338.7 87.1 338.1 M52.4 377.1C53.7 378.9 55.9 383.9 60.3 387.7C64.6 391.4 72.1 396.4 78.7 399.5C85.3 402.6 93.2 405.4 99.8 406.1C106.4 406.8 112.1 404.7 118.2 403.5C124.4 402.2 131.8 401.7 136.7 398.7C141.5 395.7 144.9 390.0 147.2 385.5C149.5 381.1 150.4 375.9 150.4 371.8C150.4 367.8 147.7 363.1 147.2 361.3 M80.0 335.0C78.6 338.0 73.7 347.7 71.3 353.4C68.9 359.1 66.1 363.9 65.5 369.2C65.0 374.5 66.0 381.3 68.2 385.0C70.4 388.8 76.0 391.6 78.7 391.6C81.4 391.6 83.8 388.3 84.5 385.0C85.2 381.7 83.9 376.2 82.9 371.8C82.0 367.5 78.9 363.2 78.7 359.2C78.5 355.2 79.1 350.9 81.9 348.1C84.6 345.4 91.3 344.2 95.0 342.9C98.8 341.5 101.5 342.0 104.5 340.2C107.5 338.5 109.4 334.5 113.0 332.3C116.6 330.1 121.3 327.9 126.1 327.1C131.0 326.2 139.3 327.1 141.9 327.1" fill="none" stroke="#e0406c" stroke-width="0.6" stroke-dasharray="2.6 0.9"/>
<rect x="216.0" y="247.9" width="166.89999999999998" height="164.79999999999998" fill="#c9c9c9"/>
<rect x="216.5" y="248.4" width="165.89999999999998" height="163.79999999999998" fill="none" stroke="#bfbfbf" stroke-width="1"/>
<clipPath id="c216"><circle cx="298.1" cy="329.7" r="80.5"/></clipPath>
<g clip-path="url(#c216)">
<rect x="217.60000000000002" y="249.2" width="80.5" height="80.5" fill="#d6cacb"/>
<rect x="298.1" y="249.2" width="80.5" height="80.5" fill="#c8c8d0"/>
<rect x="217.60000000000002" y="329.7" width="80.5" height="80.5" fill="#cad6d9"/>
<rect x="298.1" y="329.7" width="80.5" height="80.5" fill="#d6cbca"/>
<line x1="298.1" y1="249.2" x2="298.1" y2="410.2" stroke="#dcc4b4" stroke-width="0.6"/>
<line x1="217.60000000000002" y1="329.7" x2="378.6" y2="329.7" stroke="#dcc4b4" stroke-width="0.6"/>
</g>
<circle cx="318.1" cy="300.3" r="5.9" fill="#bcaacb" opacity="0.9"/>
<path d="M244.0 327.0C244.0 325.0 244.7 319.0 244.3 315.0C243.8 311.0 243.0 306.4 241.3 303.0C239.6 299.6 236.4 294.2 234.1 294.5C231.9 294.7 229.2 300.7 228.0 304.3C226.8 308.0 226.8 312.6 226.7 316.3C226.5 320.1 226.3 323.9 227.2 327.0C228.1 330.1 229.4 332.8 232.0 335.0C234.6 337.2 239.1 339.0 242.7 340.3C246.2 341.7 251.6 342.6 253.3 343.0 M304.0 292.3C303.3 291.0 300.5 287.4 300.0 284.3C299.5 281.2 299.7 276.7 300.8 273.7C301.9 270.6 304.6 267.4 306.7 266.2C308.8 265.0 311.9 265.0 313.3 266.2C314.8 267.4 315.4 270.6 315.2 273.7C315.0 276.7 312.6 280.9 312.0 284.3C311.4 287.8 310.6 291.8 311.5 294.5C312.4 297.1 314.6 298.9 317.3 300.3C320.1 301.8 324.8 301.2 328.0 303.0C331.2 304.8 335.3 308.0 336.5 311.0C337.8 314.0 337.1 319.0 335.5 321.1C333.8 323.3 329.0 324.8 326.7 323.8C324.3 322.8 322.0 317.9 321.3 315.0C320.7 312.1 323.7 309.0 322.7 306.2C321.6 303.4 317.9 300.2 315.2 298.2C312.5 296.2 309.4 294.3 306.7 294.5C303.9 294.6 300.0 298.2 298.7 299.0 M298.7 299.0C296.0 301.4 287.6 309.5 282.7 313.7C277.8 317.8 273.3 321.6 269.3 323.8C265.3 326.0 262.1 325.6 258.7 327.0C255.2 328.4 250.8 329.6 248.5 332.3C246.2 335.1 244.9 339.4 244.8 343.5C244.7 347.6 246.1 352.9 248.0 356.9C249.9 360.9 252.4 364.1 256.0 367.5C259.6 371.0 265.2 376.4 269.3 377.7C273.4 378.9 277.4 377.2 280.5 375.0C283.6 372.8 285.8 367.9 288.0 364.3C290.2 360.8 292.0 357.2 293.9 353.7C295.7 350.1 297.4 347.4 299.2 343.0C301.0 338.6 302.8 331.9 304.5 327.0C306.3 322.1 307.6 317.7 309.9 313.7C312.1 309.7 315.3 305.0 317.9 303.0C320.4 301.0 324.1 301.9 325.3 301.7 M253.3 335.0C254.2 334.2 256.4 330.7 258.7 330.2C260.9 329.7 264.9 330.3 266.7 331.8C268.4 333.3 269.8 336.8 269.3 339.0C268.9 341.2 266.2 344.4 264.0 345.1C261.8 345.9 257.8 344.8 256.0 343.5C254.2 342.3 253.1 339.4 253.3 337.7C253.6 335.9 256.7 333.7 257.3 332.9 M264.0 353.7C265.6 353.2 270.4 350.6 273.3 351.0C276.2 351.4 279.8 354.1 281.3 356.3C282.9 358.6 283.6 362.0 282.7 364.3C281.8 366.6 278.7 369.5 276.0 370.2C273.3 370.9 269.1 369.8 266.7 368.3C264.2 366.9 261.8 363.9 261.3 361.7C260.9 359.4 262.4 356.3 264.0 355.0C265.6 353.7 269.6 353.9 270.7 353.7 M309.9 313.7C309.6 315.9 307.7 322.6 308.0 327.0C308.3 331.4 310.4 336.1 311.5 340.3C312.5 344.6 314.7 348.4 314.1 352.3C313.6 356.2 310.2 361.7 308.0 363.8C305.8 365.9 302.7 365.4 300.8 364.9C298.9 364.3 296.5 361.8 296.5 360.3C296.5 358.9 299.3 356.6 300.8 356.3C302.3 356.1 304.6 358.6 305.3 359.0 M328.0 303.0C327.1 305.3 324.8 312.3 322.7 316.9C320.5 321.4 318.2 324.9 315.2 330.2C312.2 335.5 308.1 343.5 304.5 348.9C301.0 354.2 297.4 357.8 293.9 362.2C290.3 366.6 286.8 371.6 283.2 375.5C279.6 379.4 276.1 384.3 272.5 385.7C269.0 387.0 265.4 385.7 261.9 383.5C258.3 381.4 253.9 376.9 251.2 372.9C248.5 368.9 246.9 363.6 245.9 359.5C244.8 355.4 245.0 350.2 244.8 348.3 M245.9 348.3C246.8 351.0 248.5 359.4 251.2 364.3C253.9 369.3 257.9 374.3 261.9 378.2C265.9 382.1 271.2 386.6 275.2 387.8C279.2 389.0 282.4 388.2 285.9 385.7C289.3 383.1 294.3 374.6 296.0 372.3 M277.3 327.0C278.2 328.3 282.2 331.4 282.7 335.0C283.1 338.6 281.3 344.8 280.0 348.3C278.7 351.9 274.2 354.6 274.7 356.3C275.1 358.1 280.0 359.4 282.7 359.0C285.3 358.6 288.4 356.3 290.7 353.7C292.9 351.0 294.7 346.1 296.0 343.0C297.3 339.9 298.2 336.3 298.7 335.0" fill="none" stroke="#e0406c" stroke-width="0.6" stroke-dasharray="2.6 0.9"/>
<text x="68.18" y="428.2" font-size="13.4" fill="#231f20" textLength="7.26" lengthAdjust="spacingAndGlyphs" stroke="#fff" stroke-width="0.15" >5</text>
<path d="M77.83 420.33L85.67 427.57M85.67 420.33L77.83 427.57" stroke="#231f20" stroke-width="0.95" fill="none"/>
<text x="87.69" y="428.2" font-size="13.4" fill="#231f20" textLength="24.47" lengthAdjust="spacingAndGlyphs" stroke="#fff" stroke-width="0.15" >FAD</text>
<text x="112.92" y="428.2" font-size="13.4" fill="#231f20" stroke="#fff" stroke-width="0.15" >;</text>
<text x="117.53" y="428.2" font-size="13.4" fill="#231f20" textLength="17.27" lengthAdjust="spacingAndGlyphs" font-style="italic" stroke="#fff" stroke-width="0.15" >srr</text>
<text x="135.81" y="424.2" font-size="8.3" fill="#231f20" textLength="16.15" lengthAdjust="spacing" >fl/fl</text>
<text x="239.69" y="427.6" font-size="13.6" fill="#231f20" textLength="7.14" lengthAdjust="spacingAndGlyphs" stroke="#fff" stroke-width="0.15" >5</text>
<path d="M249.33 420.03L256.67 427.27M256.67 420.03L249.33 427.27" stroke="#231f20" stroke-width="0.95" fill="none"/>
<text x="258.08" y="427.6" font-size="13.6" fill="#231f20" textLength="27.14" lengthAdjust="spacingAndGlyphs" stroke="#fff" stroke-width="0.15" >FAD</text>
<text x="285.35" y="427.6" font-size="13.6" fill="#231f20" stroke="#fff" stroke-width="0.15" >;</text>
<text x="291.01" y="427.6" font-size="13.6" fill="#231f20" textLength="27.0" lengthAdjust="spacingAndGlyphs" stroke="#fff" stroke-width="0.15" >lyz2</text>
<text x="317.84" y="422.3" font-size="8.3" fill="#231f20" textLength="12.56" lengthAdjust="spacing" >cre</text>
<text x="330.52" y="427.2" font-size="13.4" fill="#231f20" stroke="#fff" stroke-width="0.15" >;</text>
<text x="334.43" y="427.2" font-size="13.4" fill="#231f20" textLength="15.61" lengthAdjust="spacingAndGlyphs" font-style="italic" stroke="#fff" stroke-width="0.15" >srr</text>
<text x="350.81" y="422.6" font-size="8.3" fill="#231f20" textLength="15.83" lengthAdjust="spacing" >fl/fl</text>
<text x="397.47" y="249.2" font-size="15.57" fill="#231f20" textLength="12.06" lengthAdjust="spacingAndGlyphs" stroke="#fff" stroke-width="0.17" >C</text>
<text x="453.81" y="248.1" font-size="15.17" fill="#231f20" textLength="126.88" lengthAdjust="spacingAndGlyphs" stroke="#fff" stroke-width="0.17" >Spatial Learning</text>
<line x1="440.3" y1="276.0" x2="440.3" y2="409.8" stroke="#333" stroke-width="1"/>
<line x1="435.3" y1="409.8" x2="640.85" y2="409.8" stroke="#6a6a6a" stroke-width="1.3"/>
<line x1="435.3" y1="376.35" x2="440.3" y2="376.35" stroke="#555" stroke-width="1"/>
<line x1="435.3" y1="342.9" x2="440.3" y2="342.9" stroke="#555" stroke-width="1"/>
<line x1="435.3" y1="309.45" x2="440.3" y2="309.45" stroke="#555" stroke-width="1"/>
<line x1="435.3" y1="276.0" x2="440.3" y2="276.0" stroke="#555" stroke-width="1"/>
<line x1="440.3" y1="409.8" x2="440.3" y2="413.3" stroke="#6a6a6a" stroke-width="1"/>
<line x1="468.95" y1="409.8" x2="468.95" y2="413.3" stroke="#6a6a6a" stroke-width="1"/>
<line x1="497.6" y1="409.8" x2="497.6" y2="413.3" stroke="#6a6a6a" stroke-width="1"/>
<line x1="526.25" y1="409.8" x2="526.25" y2="413.3" stroke="#6a6a6a" stroke-width="1"/>
<line x1="554.9" y1="409.8" x2="554.9" y2="413.3" stroke="#6a6a6a" stroke-width="1"/>
<line x1="583.55" y1="409.8" x2="583.55" y2="413.3" stroke="#6a6a6a" stroke-width="1"/>
<line x1="612.2" y1="409.8" x2="612.2" y2="413.3" stroke="#6a6a6a" stroke-width="1"/>
<line x1="640.85" y1="409.8" x2="640.85" y2="413.3" stroke="#6a6a6a" stroke-width="1"/>
<text x="426.98" y="414.1" font-size="12.2" fill="#333" textLength="7.3" lengthAdjust="spacingAndGlyphs" stroke="#fff" stroke-width="0.13" >0</text>
<text x="421.0" y="380.65000000000003" font-size="12.2" fill="#333" textLength="13.24" lengthAdjust="spacingAndGlyphs" stroke="#fff" stroke-width="0.13" >20</text>
<text x="421.37" y="347.2" font-size="12.2" fill="#333" textLength="12.86" lengthAdjust="spacingAndGlyphs" stroke="#fff" stroke-width="0.13" >40</text>
<text x="421.0" y="313.75" font-size="12.2" fill="#333" textLength="13.24" lengthAdjust="spacingAndGlyphs" stroke="#fff" stroke-width="0.13" >60</text>
<text x="421.07" y="280.3" font-size="12.2" fill="#333" textLength="13.18" lengthAdjust="spacingAndGlyphs" stroke="#fff" stroke-width="0.13" >80</text>
<text x="436.43" y="424.9" font-size="12.0" fill="#333" textLength="7.3" lengthAdjust="spacingAndGlyphs" stroke="#fff" stroke-width="0.13" >0</text>
<text x="466.6" y="424.9" font-size="12.0" fill="#333" textLength="4.09" lengthAdjust="spacingAndGlyphs" stroke="#fff" stroke-width="0.13" >1</text>
<text x="493.56" y="424.9" font-size="12.0" fill="#333" textLength="7.7" lengthAdjust="spacingAndGlyphs" stroke="#fff" stroke-width="0.13" >2</text>
<text x="522.37" y="424.9" font-size="12.0" fill="#333" textLength="7.38" lengthAdjust="spacingAndGlyphs" stroke="#fff" stroke-width="0.13" >3</text>
<text x="551.3" y="424.9" font-size="12.0" fill="#333" textLength="6.94" lengthAdjust="spacingAndGlyphs" stroke="#fff" stroke-width="0.13" >4</text>
<text x="579.67" y="424.9" font-size="12.0" fill="#333" textLength="7.38" lengthAdjust="spacingAndGlyphs" stroke="#fff" stroke-width="0.13" >5</text>
<text x="608.17" y="424.9" font-size="12.0" fill="#333" textLength="7.54" lengthAdjust="spacingAndGlyphs" stroke="#fff" stroke-width="0.13" >6</text>
<text x="636.81" y="424.9" font-size="12.0" fill="#333" textLength="7.7" lengthAdjust="spacingAndGlyphs" stroke="#fff" stroke-width="0.13" >7</text>
<text transform="translate(409.9 366) rotate(-90)" x="-1.15" y="0" font-size="14.07" fill="#231f20" textLength="67.27" lengthAdjust="spacingAndGlyphs" stroke="#fff" stroke-width="0.15" >Latency(s)</text>
<path d="M468.9 309V312.6M465.4 309H472.4M465.4 312.6H472.4" stroke="#ef3c9a" stroke-width="1" fill="none"/>
<path d="M497.6 310V316M494.1 310H501.1M494.1 316H501.1" stroke="#ef3c9a" stroke-width="1" fill="none"/>
<path d="M526.2 327.3V345.4M522.8 327.3H529.8M522.8 345.4H529.8" stroke="#ef3c9a" stroke-width="1" fill="none"/>
<path d="M554.9 346.2V374M551.4 346.2H558.4M551.4 374H558.4" stroke="#ef3c9a" stroke-width="1" fill="none"/>
<path d="M583.5 348.5V375M580.0 348.5H587.0M580.0 375H587.0" stroke="#ef3c9a" stroke-width="1" fill="none"/>
<path d="M612.2 374.5V384M608.7 374.5H615.7M608.7 384H615.7" stroke="#ef3c9a" stroke-width="1" fill="none"/>
<polyline points="468.9,309.4 497.6,313.8 526.2,334.5 554.9,361.3 583.5,362.1 612.2,380.2" fill="none" stroke="#ef3c9a" stroke-width="1"/>
<path d="M468.9 305.2L472.8 312.1L465.1 312.1Z" fill="#e79bc6" stroke="#ef3c9a" stroke-width="0.9"/>
<path d="M497.6 309.6L501.5 316.4L493.7 316.4Z" fill="#e79bc6" stroke="#ef3c9a" stroke-width="0.9"/>
<path d="M526.2 330.3L530.1 337.1L522.4 337.1Z" fill="#e79bc6" stroke="#ef3c9a" stroke-width="0.9"/>
<path d="M554.9 357.1L558.8 363.9L551.0 363.9Z" fill="#e79bc6" stroke="#ef3c9a" stroke-width="0.9"/>
<path d="M583.5 357.9L587.4 364.7L579.6 364.7Z" fill="#e79bc6" stroke="#ef3c9a" stroke-width="0.9"/>
<path d="M612.2 376.0L616.1 382.8L608.3 382.8Z" fill="#e79bc6" stroke="#ef3c9a" stroke-width="0.9"/>
<path d="M497.6 316V325.8M494.1 316H501.1M494.1 325.8H501.1" stroke="#8a8a8a" stroke-width="1" fill="none"/>
<path d="M526.2 312.6V326.2M522.8 312.6H529.8M522.8 326.2H529.8" stroke="#8a8a8a" stroke-width="1" fill="none"/>
<path d="M554.9 320.6V341M551.4 320.6H558.4M551.4 341H558.4" stroke="#8a8a8a" stroke-width="1" fill="none"/>
<path d="M583.5 323V339.9M580.0 323H587.0M580.0 339.9H587.0" stroke="#8a8a8a" stroke-width="1" fill="none"/>
<path d="M612.2 331.5V351.4M608.7 331.5H615.7M608.7 351.4H615.7" stroke="#8a8a8a" stroke-width="1" fill="none"/>
<polyline points="468.9,309.4 497.6,320.3 526.2,319.8 554.9,332.0 583.5,332.0 612.2,342.2" fill="none" stroke="#8a8a8a" stroke-width="1"/>
<circle cx="468.9" cy="309.4" r="3.6" fill="#c8c8c8" stroke="#8a8a8a" stroke-width="0.8"/>
<circle cx="497.6" cy="320.3" r="3.6" fill="#c8c8c8" stroke="#8a8a8a" stroke-width="0.8"/>
<circle cx="526.2" cy="319.8" r="3.6" fill="#c8c8c8" stroke="#8a8a8a" stroke-width="0.8"/>
<circle cx="554.9" cy="332.0" r="3.6" fill="#c8c8c8" stroke="#8a8a8a" stroke-width="0.8"/>
<circle cx="583.5" cy="332.0" r="3.6" fill="#c8c8c8" stroke="#8a8a8a" stroke-width="0.8"/>
<circle cx="612.2" cy="342.2" r="3.6" fill="#c8c8c8" stroke="#8a8a8a" stroke-width="0.8"/>
<path d="M583.55 314.50L583.55 322.10M586.84 316.40L580.26 320.20M586.84 320.20L580.26 316.40" stroke="#231f20" stroke-width="1.6" fill="none"/>
<path d="M612.20 322.20L612.20 329.80M615.49 324.10L608.91 327.90M615.49 327.90L608.91 324.10" stroke="#231f20" stroke-width="1.6" fill="none"/>
<rect x="452.9" y="259.2" width="99.5" height="26" fill="none" stroke="#333" stroke-width="0.8"/>
<circle cx="459.6" cy="267" r="3.3" fill="#c8c8c8" stroke="#8a8a8a" stroke-width="0.8"/>
<path d="M459.6 274.3L463.4 281L455.8 281Z" fill="#e79bc6" stroke="#ef3c9a" stroke-width="0.9"/>
<text x="465.58" y="270.0" font-size="9.3" fill="#231f20" textLength="4.45" lengthAdjust="spacingAndGlyphs" >5</text>
<path d="M471.05 265.55L475.75 268.95M475.75 265.55L471.05 268.95" stroke="#231f20" stroke-width="0.7" fill="none"/>
<text x="476.03" y="270.0" font-size="9.3" fill="#231f20" textLength="21.05" lengthAdjust="spacingAndGlyphs" >FAD</text>
<text x="496.8" y="270.0" font-size="9.3" fill="#231f20" >;</text>
<text x="499.96" y="270.0" font-size="9.3" fill="#231f20" textLength="10.15" lengthAdjust="spacingAndGlyphs" font-style="italic" >srr</text>
<text x="510.78" y="267.0" font-size="5.4" fill="#231f20" textLength="10.16" lengthAdjust="spacing" >fl/fl</text>
<text x="465.58" y="280.9" font-size="9.3" fill="#231f20" textLength="4.45" lengthAdjust="spacingAndGlyphs" >5</text>
<path d="M471.05 277.35L475.75 280.75M475.75 277.35L471.05 280.75" stroke="#231f20" stroke-width="0.7" fill="none"/>
<text x="476.03" y="280.9" font-size="9.3" fill="#231f20" textLength="21.05" lengthAdjust="spacingAndGlyphs" >FAD</text>
<text x="496.8" y="280.9" font-size="9.3" fill="#231f20" >;</text>
<text x="499.67" y="280.9" font-size="9.3" fill="#231f20" textLength="17.36" lengthAdjust="spacingAndGlyphs" >lyz2</text>
<text x="516.76" y="276.9" font-size="5.4" fill="#231f20" textLength="8.3" lengthAdjust="spacing" >cre</text>
<text x="525.2" y="280.9" font-size="9.3" fill="#231f20" >;</text>
<text x="529.55" y="280.9" font-size="9.3" fill="#231f20" textLength="10.54" lengthAdjust="spacingAndGlyphs" font-style="italic" >srr</text>
<text x="540.78" y="277.8" font-size="5.4" fill="#231f20" textLength="9.94" lengthAdjust="spacing" >fl/fl</text>
<rect x="633.5" y="281.4" width="14.2" height="72.8" fill="none" stroke="#333" stroke-width="0.9"/>
<text transform="translate(644.0 347.2) rotate(-90)" x="-1.01" y="0" font-size="10.07" fill="#231f20" textLength="57.31" lengthAdjust="spacingAndGlyphs" >Probe test</text>
<line x1="640.7" y1="354.3" x2="640.7" y2="400" stroke="#333" stroke-width="0.9"/>
<path d="M637.2 398.8L644.2 398.8L640.7 405.2Z" fill="#231f20"/>
<text x="0.43" y="458.2" font-size="15.36" fill="#231f20" textLength="12.38" lengthAdjust="spacingAndGlyphs" stroke="#fff" stroke-width="0.17" >D</text>
<text x="84.41" y="457.9" font-size="15.59" fill="#231f20" textLength="127.19" lengthAdjust="spacingAndGlyphs" stroke="#fff" stroke-width="0.17" >Spatial Learning</text>
<text x="244.34" y="457.9" font-size="15.22" fill="#231f20" textLength="9.67" lengthAdjust="spacingAndGlyphs" stroke="#fff" stroke-width="0.17" >E</text>
<text x="261.01" y="457.9" font-size="15.59" fill="#231f20" textLength="126.68" lengthAdjust="spacingAndGlyphs" stroke="#fff" stroke-width="0.17" >Spatial Learning</text>
<line x1="30.6" y1="489.6" x2="30.6" y2="601.6" stroke="#333" stroke-width="1"/>
<line x1="25.6" y1="601.6" x2="255.5" y2="601.6" stroke="#333" stroke-width="1"/>
<line x1="25.6" y1="601.6" x2="30.6" y2="601.6" stroke="#555" stroke-width="1"/>
<line x1="25.6" y1="573.6" x2="30.6" y2="573.6" stroke="#555" stroke-width="1"/>
<line x1="25.6" y1="545.6" x2="30.6" y2="545.6" stroke="#555" stroke-width="1"/>
<line x1="25.6" y1="517.6" x2="30.6" y2="517.6" stroke="#555" stroke-width="1"/>
<line x1="25.6" y1="489.6" x2="30.6" y2="489.6" stroke="#555" stroke-width="1"/>
<text x="19.37" y="605.0" font-size="9.8" fill="#333" textLength="6.03" lengthAdjust="spacingAndGlyphs" >0</text>
<text x="14.2" y="577.0" font-size="9.8" fill="#333" textLength="11.18" lengthAdjust="spacingAndGlyphs" >20</text>
<text x="14.5" y="549.0" font-size="9.8" fill="#333" textLength="10.86" lengthAdjust="spacingAndGlyphs" >40</text>
<text x="14.2" y="521.0" font-size="9.8" fill="#333" textLength="11.18" lengthAdjust="spacingAndGlyphs" >60</text>
<text x="14.25" y="493.0" font-size="9.8" fill="#333" textLength="11.12" lengthAdjust="spacingAndGlyphs" >80</text>
<text transform="translate(11.4 601) rotate(-90)" x="-0.25" y="0" font-size="11.45" fill="#231f20" textLength="115.85" lengthAdjust="spacingAndGlyphs" stroke="#fff" stroke-width="0.13" >Time in Quadrant(%)</text>
<line x1="87.9" y1="488.5" x2="87.9" y2="601" stroke="#9a9a9a" stroke-width="1.2" stroke-dasharray="13.2 12.8"/>
<line x1="141.9" y1="488.5" x2="141.9" y2="601" stroke="#9a9a9a" stroke-width="1.2" stroke-dasharray="13.2 12.8"/>
<line x1="196.6" y1="486.6" x2="196.6" y2="601" stroke="#333" stroke-width="1" stroke-dasharray="12.4 12.6"/>
<rect x="37.2" y="583.2" width="20.6" height="18.4" fill="#737373" stroke="#231f20" stroke-width="0.9"/>
<circle cx="47.5" cy="550.4" r="2.1" fill="#737373" stroke="#231f20" stroke-width="0.6"/>
<circle cx="39" cy="565.7" r="2.1" fill="#737373" stroke="#231f20" stroke-width="0.6"/>
<circle cx="55.4" cy="566.3" r="2.1" fill="#737373" stroke="#231f20" stroke-width="0.6"/>
<circle cx="39" cy="575.6" r="2.1" fill="#737373" stroke="#231f20" stroke-width="0.6"/>
<circle cx="47.5" cy="583" r="2.1" fill="#737373" stroke="#231f20" stroke-width="0.6"/>
<circle cx="55.4" cy="583" r="2.1" fill="#737373" stroke="#231f20" stroke-width="0.6"/>
<circle cx="39" cy="588.9" r="2.1" fill="#737373" stroke="#231f20" stroke-width="0.6"/>
<circle cx="39" cy="593.4" r="2.1" fill="#737373" stroke="#231f20" stroke-width="0.6"/>
<circle cx="47.5" cy="594.2" r="2.1" fill="#737373" stroke="#231f20" stroke-width="0.6"/>
<circle cx="55.4" cy="592.8" r="2.1" fill="#737373" stroke="#231f20" stroke-width="0.6"/>
<circle cx="55.4" cy="597.5" r="2.1" fill="#737373" stroke="#231f20" stroke-width="0.6"/>
<circle cx="39" cy="601.2" r="2.1" fill="#737373" stroke="#231f20" stroke-width="0.6"/>
<path d="M47.5 578.4V587.6M42.5 578.4H52.5M42.5 587.6H52.5" stroke="#231f20" stroke-width="0.9" fill="none"/>
<rect x="64.2" y="567.2" width="20.8" height="34.4" fill="#f02a8e" stroke="#231f20" stroke-width="0.9"/>
<circle cx="74.5" cy="541.5" r="2.1" fill="#f02a8e" stroke="#231f20" stroke-width="0.6"/>
<circle cx="74.5" cy="550.8" r="2.1" fill="#f02a8e" stroke="#231f20" stroke-width="0.6"/>
<circle cx="74.5" cy="556.4" r="2.1" fill="#f02a8e" stroke="#231f20" stroke-width="0.6"/>
<circle cx="74.5" cy="562.4" r="2.1" fill="#f02a8e" stroke="#231f20" stroke-width="0.6"/>
<circle cx="66.3" cy="574" r="2.1" fill="#f02a8e" stroke="#231f20" stroke-width="0.6"/>
<circle cx="74.5" cy="576.2" r="2.1" fill="#f02a8e" stroke="#231f20" stroke-width="0.6"/>
<circle cx="82.5" cy="574" r="2.1" fill="#f02a8e" stroke="#231f20" stroke-width="0.6"/>
<circle cx="82.5" cy="580.6" r="2.1" fill="#f02a8e" stroke="#231f20" stroke-width="0.6"/>
<circle cx="66.3" cy="584.3" r="2.1" fill="#f02a8e" stroke="#231f20" stroke-width="0.6"/>
<path d="M74.6 562V571.6M69.6 562H79.6M69.6 571.6H79.6" stroke="#231f20" stroke-width="0.9" fill="none"/>
<rect x="91.5" y="575.3" width="20.3" height="26.3" fill="#737373" stroke="#231f20" stroke-width="0.9"/>
<circle cx="97.5" cy="554.5" r="2.1" fill="#737373" stroke="#231f20" stroke-width="0.6"/>
<circle cx="105.9" cy="554.5" r="2.1" fill="#737373" stroke="#231f20" stroke-width="0.6"/>
<circle cx="101.8" cy="560.5" r="2.1" fill="#737373" stroke="#231f20" stroke-width="0.6"/>
<circle cx="105.9" cy="568.1" r="2.1" fill="#737373" stroke="#231f20" stroke-width="0.6"/>
<circle cx="101.8" cy="570.9" r="2.1" fill="#737373" stroke="#231f20" stroke-width="0.6"/>
<circle cx="93.4" cy="579" r="2.1" fill="#737373" stroke="#231f20" stroke-width="0.6"/>
<circle cx="97.5" cy="582.3" r="2.1" fill="#737373" stroke="#231f20" stroke-width="0.6"/>
<circle cx="101.8" cy="579.8" r="2.1" fill="#737373" stroke="#231f20" stroke-width="0.6"/>
<circle cx="105.9" cy="582.3" r="2.1" fill="#737373" stroke="#231f20" stroke-width="0.6"/>
<circle cx="110.1" cy="580.2" r="2.1" fill="#737373" stroke="#231f20" stroke-width="0.6"/>
<circle cx="101.8" cy="588.6" r="2.1" fill="#737373" stroke="#231f20" stroke-width="0.6"/>
<circle cx="101.8" cy="596.7" r="2.1" fill="#737373" stroke="#231f20" stroke-width="0.6"/>
<path d="M101.7 570.5V578.5M96.7 570.5H106.7M96.7 578.5H106.7" stroke="#231f20" stroke-width="0.9" fill="none"/>
<rect x="119.1" y="572.6" width="19.9" height="29.0" fill="#f02a8e" stroke="#231f20" stroke-width="0.9"/>
<circle cx="120.7" cy="561.7" r="2.1" fill="#f02a8e" stroke="#231f20" stroke-width="0.6"/>
<circle cx="129" cy="560.7" r="2.1" fill="#f02a8e" stroke="#231f20" stroke-width="0.6"/>
<circle cx="137.2" cy="560.7" r="2.1" fill="#f02a8e" stroke="#231f20" stroke-width="0.6"/>
<circle cx="137.2" cy="565.5" r="2.1" fill="#f02a8e" stroke="#231f20" stroke-width="0.6"/>
<circle cx="129" cy="567.7" r="2.1" fill="#f02a8e" stroke="#231f20" stroke-width="0.6"/>
<circle cx="129" cy="579.8" r="2.1" fill="#f02a8e" stroke="#231f20" stroke-width="0.6"/>
<circle cx="137.2" cy="579.8" r="2.1" fill="#f02a8e" stroke="#231f20" stroke-width="0.6"/>
<circle cx="137.2" cy="585.5" r="2.1" fill="#f02a8e" stroke="#231f20" stroke-width="0.6"/>
<circle cx="120.7" cy="587.2" r="2.1" fill="#f02a8e" stroke="#231f20" stroke-width="0.6"/>
<path d="M129.1 568.1V575.9M124.1 568.1H134.1M124.1 575.9H134.1" stroke="#231f20" stroke-width="0.9" fill="none"/>
<rect x="146.4" y="552.2" width="20.2" height="49.4" fill="#737373" stroke="#231f20" stroke-width="0.9"/>
<circle cx="153.3" cy="504.1" r="2.1" fill="#737373" stroke="#231f20" stroke-width="0.6"/>
<circle cx="148.1" cy="542.6" r="2.1" fill="#737373" stroke="#231f20" stroke-width="0.6"/>
<circle cx="153.3" cy="544.4" r="2.1" fill="#737373" stroke="#231f20" stroke-width="0.6"/>
<circle cx="158.9" cy="543.8" r="2.1" fill="#737373" stroke="#231f20" stroke-width="0.6"/>
<circle cx="164.3" cy="545.1" r="2.1" fill="#737373" stroke="#231f20" stroke-width="0.6"/>
<circle cx="153.3" cy="557.3" r="2.1" fill="#737373" stroke="#231f20" stroke-width="0.6"/>
<circle cx="158.9" cy="557.3" r="2.1" fill="#737373" stroke="#231f20" stroke-width="0.6"/>
<circle cx="164.3" cy="556" r="2.1" fill="#737373" stroke="#231f20" stroke-width="0.6"/>
<circle cx="148.1" cy="561.3" r="2.1" fill="#737373" stroke="#231f20" stroke-width="0.6"/>
<circle cx="153.3" cy="564.4" r="2.1" fill="#737373" stroke="#231f20" stroke-width="0.6"/>
<circle cx="158.9" cy="564.4" r="2.1" fill="#737373" stroke="#231f20" stroke-width="0.6"/>
<circle cx="153.3" cy="576.6" r="2.1" fill="#737373" stroke="#231f20" stroke-width="0.6"/>
<path d="M156.5 546.5V557.6M151.5 546.5H161.5M151.5 557.6H161.5" stroke="#231f20" stroke-width="0.9" fill="none"/>
<rect x="173.4" y="557.3" width="20.2" height="44.3" fill="#f02a8e" stroke="#231f20" stroke-width="0.9"/>
<circle cx="183.3" cy="532.2" r="2.1" fill="#f02a8e" stroke="#231f20" stroke-width="0.6"/>
<circle cx="175.1" cy="545.2" r="2.1" fill="#f02a8e" stroke="#231f20" stroke-width="0.6"/>
<circle cx="175.1" cy="550" r="2.1" fill="#f02a8e" stroke="#231f20" stroke-width="0.6"/>
<circle cx="183.3" cy="550" r="2.1" fill="#f02a8e" stroke="#231f20" stroke-width="0.6"/>
<circle cx="191.7" cy="552.2" r="2.1" fill="#f02a8e" stroke="#231f20" stroke-width="0.6"/>
<circle cx="183.3" cy="556.4" r="2.1" fill="#f02a8e" stroke="#231f20" stroke-width="0.6"/>
<circle cx="183.3" cy="569.1" r="2.1" fill="#f02a8e" stroke="#231f20" stroke-width="0.6"/>
<circle cx="175.1" cy="579.2" r="2.1" fill="#f02a8e" stroke="#231f20" stroke-width="0.6"/>
<circle cx="191.7" cy="577.3" r="2.1" fill="#f02a8e" stroke="#231f20" stroke-width="0.6"/>
<path d="M183.5 551.7V562.4M178.5 551.7H188.5M178.5 562.4H188.5" stroke="#231f20" stroke-width="0.9" fill="none"/>
<rect x="200.4" y="557.3" width="20.5" height="44.3" fill="#737373" stroke="#231f20" stroke-width="0.9"/>
<circle cx="202.5" cy="528.1" r="2.1" fill="#737373" stroke="#231f20" stroke-width="0.6"/>
<circle cx="210.6" cy="531.5" r="2.1" fill="#737373" stroke="#231f20" stroke-width="0.6"/>
<circle cx="210.6" cy="547" r="2.1" fill="#737373" stroke="#231f20" stroke-width="0.6"/>
<circle cx="219.2" cy="545.3" r="2.1" fill="#737373" stroke="#231f20" stroke-width="0.6"/>
<circle cx="202.5" cy="560" r="2.1" fill="#737373" stroke="#231f20" stroke-width="0.6"/>
<circle cx="210.6" cy="558.4" r="2.1" fill="#737373" stroke="#231f20" stroke-width="0.6"/>
<circle cx="219.2" cy="559.8" r="2.1" fill="#737373" stroke="#231f20" stroke-width="0.6"/>
<circle cx="210.6" cy="563.1" r="2.1" fill="#737373" stroke="#231f20" stroke-width="0.6"/>
<circle cx="219.2" cy="564.5" r="2.1" fill="#737373" stroke="#231f20" stroke-width="0.6"/>
<circle cx="202.5" cy="566.2" r="2.1" fill="#737373" stroke="#231f20" stroke-width="0.6"/>
<circle cx="210.6" cy="575" r="2.1" fill="#737373" stroke="#231f20" stroke-width="0.6"/>
<circle cx="210.6" cy="586.5" r="2.1" fill="#737373" stroke="#231f20" stroke-width="0.6"/>
<path d="M210.7 552.4V562M205.7 552.4H215.7M205.7 562H215.7" stroke="#231f20" stroke-width="0.9" fill="none"/>
<rect x="228.4" y="571.2" width="20.0" height="30.4" fill="#f02a8e" stroke="#231f20" stroke-width="0.9"/>
<circle cx="238.1" cy="555.3" r="2.1" fill="#f02a8e" stroke="#231f20" stroke-width="0.6"/>
<circle cx="230" cy="564.8" r="2.1" fill="#f02a8e" stroke="#231f20" stroke-width="0.6"/>
<circle cx="238.1" cy="562.5" r="2.1" fill="#f02a8e" stroke="#231f20" stroke-width="0.6"/>
<circle cx="246.6" cy="561.5" r="2.1" fill="#f02a8e" stroke="#231f20" stroke-width="0.6"/>
<circle cx="230" cy="571.2" r="2.1" fill="#f02a8e" stroke="#231f20" stroke-width="0.6"/>
<circle cx="246.2" cy="574.6" r="2.1" fill="#f02a8e" stroke="#231f20" stroke-width="0.6"/>
<circle cx="238.1" cy="579.1" r="2.1" fill="#f02a8e" stroke="#231f20" stroke-width="0.6"/>
<circle cx="230" cy="584.3" r="2.1" fill="#f02a8e" stroke="#231f20" stroke-width="0.6"/>
<circle cx="246.2" cy="582.3" r="2.1" fill="#f02a8e" stroke="#231f20" stroke-width="0.6"/>
<path d="M238.4 567.2V574.8M233.4 567.2H243.4M233.4 574.8H243.4" stroke="#231f20" stroke-width="0.9" fill="none"/>
<line x1="45.5" y1="496" x2="75" y2="496" stroke="#333" stroke-width="0.9"/>
<path d="M59.00 487.90L59.00 494.50M61.86 489.55L56.14 492.85M61.86 492.85L56.14 489.55" stroke="#231f20" stroke-width="1.5" fill="none"/>
<text x="60.28" y="612.5" font-size="11.29" fill="#231f20" textLength="15.43" lengthAdjust="spacingAndGlyphs" stroke="#fff" stroke-width="0.12" >Q1</text>
<text x="113.17" y="612.5" font-size="11.5" fill="#231f20" textLength="15.81" lengthAdjust="spacingAndGlyphs" stroke="#fff" stroke-width="0.13" >Q2</text>
<text x="168.36" y="612.5" font-size="11.5" fill="#231f20" textLength="16.11" lengthAdjust="spacingAndGlyphs" stroke="#fff" stroke-width="0.13" >Q3</text>
<text x="222.87" y="612.5" font-size="11.5" fill="#231f20" textLength="15.77" lengthAdjust="spacingAndGlyphs" stroke="#fff" stroke-width="0.13" >Q4</text>
<text x="46.42" y="626.3" font-size="11.5" fill="#231f20" textLength="45.04" lengthAdjust="spacingAndGlyphs" stroke="#fff" stroke-width="0.13" >(Target)</text>
<text x="147.03" y="626.3" font-size="11.5" fill="#231f20" textLength="59.89" lengthAdjust="spacingAndGlyphs" stroke="#fff" stroke-width="0.13" >(Opposite)</text>
<rect x="34.5" y="466.8" width="169.6" height="12.8" fill="none" stroke="#333" stroke-width="0.8"/>
<circle cx="41.1" cy="473.6" r="2.3" fill="#737373" stroke="#231f20" stroke-width="0.5"/>
<circle cx="113.8" cy="473.6" r="2.2" fill="#f02a8e" stroke="#231f20" stroke-width="0.5"/>
<text x="45.35" y="476.7" font-size="9.4" fill="#231f20" textLength="4.8" lengthAdjust="spacingAndGlyphs" >5</text>
<path d="M52.03 471.83L57.77 475.97M57.77 471.83L52.03 475.97" stroke="#231f20" stroke-width="0.65" fill="none"/>
<text x="58.24" y="476.7" font-size="9.4" fill="#231f20" textLength="18.59" lengthAdjust="spacingAndGlyphs" >FAD</text>
<text x="76.58" y="476.7" font-size="9.4" fill="#231f20" >;</text>
<text x="79.35" y="476.7" font-size="9.4" fill="#231f20" textLength="10.54" lengthAdjust="spacingAndGlyphs" font-style="italic" >srr</text>
<text x="90.57" y="473.6" font-size="5.4" fill="#231f20" textLength="10.91" lengthAdjust="spacing" >fl/fl</text>
<text x="116.46" y="476.7" font-size="9.4" fill="#231f20" textLength="4.68" lengthAdjust="spacingAndGlyphs" >5</text>
<path d="M122.83 471.83L128.17 475.97M128.17 471.83L122.83 475.97" stroke="#231f20" stroke-width="0.65" fill="none"/>
<text x="129.16" y="476.7" font-size="9.4" fill="#231f20" textLength="17.95" lengthAdjust="spacingAndGlyphs" >FAD</text>
<text x="147.18" y="476.7" font-size="9.4" fill="#231f20" >;</text>
<text x="150.39" y="476.7" font-size="9.4" fill="#231f20" textLength="19.5" lengthAdjust="spacingAndGlyphs" >lyz2</text>
<text x="169.8" y="472.6" font-size="5.4" fill="#231f20" textLength="7.03" lengthAdjust="spacing" >cre</text>
<text x="177.83" y="476.7" font-size="9.4" fill="#231f20" >;</text>
<text x="180.96" y="476.7" font-size="9.4" fill="#231f20" textLength="9.95" lengthAdjust="spacingAndGlyphs" font-style="italic" >srr</text>
<text x="191.58" y="473.6" font-size="5.4" fill="#231f20" textLength="10.37" lengthAdjust="spacing" >fl/fl</text>
<line x1="289.2" y1="487.20000000000005" x2="289.2" y2="601.2" stroke="#333" stroke-width="1"/>
<line x1="284.2" y1="601.2" x2="366" y2="601.2" stroke="#333" stroke-width="1"/>
<line x1="284.2" y1="601.2" x2="289.2" y2="601.2" stroke="#555" stroke-width="1"/>
<line x1="284.2" y1="563.2" x2="289.2" y2="563.2" stroke="#555" stroke-width="1"/>
<line x1="284.2" y1="525.2" x2="289.2" y2="525.2" stroke="#555" stroke-width="1"/>
<line x1="284.2" y1="487.20000000000005" x2="289.2" y2="487.20000000000005" stroke="#555" stroke-width="1"/>
<text x="277.67" y="604.1" font-size="8.4" fill="#333" textLength="4.63" lengthAdjust="spacingAndGlyphs" >0</text>
<text x="277.56" y="566.1" font-size="8.4" fill="#333" textLength="4.89" lengthAdjust="spacingAndGlyphs" >2</text>
<text x="277.84" y="528.1" font-size="8.4" fill="#333" textLength="4.41" lengthAdjust="spacingAndGlyphs" >4</text>
<text x="277.57" y="490.1" font-size="8.4" fill="#333" textLength="4.78" lengthAdjust="spacingAndGlyphs" >6</text>
<text transform="translate(271.3 585) rotate(-90)" x="-0.64" y="0" font-size="10.48" fill="#231f20" textLength="80.19" lengthAdjust="spacingAndGlyphs" >Cross number</text>
<rect x="300.5" y="585.5" width="21.2" height="15.7" fill="#737373" stroke="#231f20" stroke-width="0.9"/>
<circle cx="312.5" cy="525" r="2.1" fill="#737373" stroke="#231f20" stroke-width="0.6"/>
<circle cx="310" cy="543.8" r="2.1" fill="#737373" stroke="#231f20" stroke-width="0.6"/>
<circle cx="312.5" cy="563" r="2.1" fill="#737373" stroke="#231f20" stroke-width="0.6"/>
<circle cx="310" cy="581.7" r="2.1" fill="#737373" stroke="#231f20" stroke-width="0.6"/>
<circle cx="302" cy="600.8" r="2.1" fill="#737373" stroke="#231f20" stroke-width="0.6"/>
<circle cx="305.8" cy="600.8" r="2.1" fill="#737373" stroke="#231f20" stroke-width="0.6"/>
<circle cx="310" cy="600.8" r="2.1" fill="#737373" stroke="#231f20" stroke-width="0.6"/>
<circle cx="314.7" cy="600.8" r="2.1" fill="#737373" stroke="#231f20" stroke-width="0.6"/>
<circle cx="319.2" cy="600.8" r="2.1" fill="#737373" stroke="#231f20" stroke-width="0.6"/>
<path d="M311.1 577.5V592.8M306.1 577.5H316.1M306.1 592.8H316.1" stroke="#231f20" stroke-width="0.9" fill="none"/>
<rect x="333.3" y="561.3" width="21.2" height="39.9" fill="#f02a8e" stroke="#231f20" stroke-width="0.9"/>
<circle cx="343.7" cy="505.8" r="2.1" fill="#f02a8e" stroke="#231f20" stroke-width="0.6"/>
<circle cx="343.7" cy="525" r="2.1" fill="#f02a8e" stroke="#231f20" stroke-width="0.6"/>
<circle cx="343.7" cy="543.8" r="2.1" fill="#f02a8e" stroke="#231f20" stroke-width="0.6"/>
<circle cx="352.5" cy="543.8" r="2.1" fill="#f02a8e" stroke="#231f20" stroke-width="0.6"/>
<circle cx="343.7" cy="563" r="2.1" fill="#f02a8e" stroke="#231f20" stroke-width="0.6"/>
<circle cx="335.3" cy="581.7" r="2.1" fill="#f02a8e" stroke="#231f20" stroke-width="0.6"/>
<circle cx="343.7" cy="581.7" r="2.1" fill="#f02a8e" stroke="#231f20" stroke-width="0.6"/>
<circle cx="335.3" cy="600.8" r="2.1" fill="#f02a8e" stroke="#231f20" stroke-width="0.6"/>
<circle cx="352.5" cy="600.8" r="2.1" fill="#f02a8e" stroke="#231f20" stroke-width="0.6"/>
<path d="M343.9 549.5V572.2M338.9 549.5H348.9M338.9 572.2H348.9" stroke="#231f20" stroke-width="0.9" fill="none"/>
<text x="390.83" y="458.0" font-size="15.36" fill="#231f20" textLength="9.72" lengthAdjust="spacingAndGlyphs" stroke="#fff" stroke-width="0.17" >F</text>
<text x="403.71" y="458.0" font-size="15.72" fill="#231f20" textLength="126.98" lengthAdjust="spacingAndGlyphs" stroke="#fff" stroke-width="0.17" >Spatial Learning</text>
<line x1="441" y1="487.09999999999997" x2="441" y2="601.4" stroke="#333" stroke-width="1"/>
<line x1="436" y1="601.4" x2="518.7" y2="601.4" stroke="#333" stroke-width="1"/>
<line x1="436" y1="601.4" x2="441" y2="601.4" stroke="#555" stroke-width="1"/>
<line x1="436" y1="563.3" x2="441" y2="563.3" stroke="#555" stroke-width="1"/>
<line x1="436" y1="525.1999999999999" x2="441" y2="525.1999999999999" stroke="#555" stroke-width="1"/>
<line x1="436" y1="487.09999999999997" x2="441" y2="487.09999999999997" stroke="#555" stroke-width="1"/>
<text x="437" y="604.9" font-size="9.6" fill="#555" text-anchor="end" transform="rotate(-45 437 604.9)">0</text>
<text x="437" y="566.8" font-size="9.6" fill="#555" text-anchor="end" transform="rotate(-45 437 566.8)">500</text>
<text x="437" y="528.6999999999999" font-size="9.6" fill="#555" text-anchor="end" transform="rotate(-45 437 528.6999999999999)">1000</text>
<text x="437" y="490.59999999999997" font-size="9.6" fill="#555" text-anchor="end" transform="rotate(-45 437 490.59999999999997)">1500</text>
<text transform="translate(409.0 598.2) rotate(-90)" x="-0.57" y="0" font-size="11.17" fill="#231f20" textLength="108.15" lengthAdjust="spacingAndGlyphs" stroke="#fff" stroke-width="0.12" >Swim Distance(cm)</text>
<rect x="453.2" y="524.5" width="20.6" height="76.9" fill="#737373" stroke="#231f20" stroke-width="0.9"/>
<circle cx="463.5" cy="502.9" r="2.1" fill="#737373" stroke="#231f20" stroke-width="0.6"/>
<circle cx="463.5" cy="512.2" r="2.1" fill="#737373" stroke="#231f20" stroke-width="0.6"/>
<circle cx="472.4" cy="513.2" r="2.1" fill="#737373" stroke="#231f20" stroke-width="0.6"/>
<circle cx="463.5" cy="517.3" r="2.1" fill="#737373" stroke="#231f20" stroke-width="0.6"/>
<circle cx="454.6" cy="519.4" r="2.1" fill="#737373" stroke="#231f20" stroke-width="0.6"/>
<circle cx="472.4" cy="520.8" r="2.1" fill="#737373" stroke="#231f20" stroke-width="0.6"/>
<circle cx="454.6" cy="525.2" r="2.1" fill="#737373" stroke="#231f20" stroke-width="0.6"/>
<circle cx="463.5" cy="528.3" r="2.1" fill="#737373" stroke="#231f20" stroke-width="0.6"/>
<circle cx="454.6" cy="530.7" r="2.1" fill="#737373" stroke="#231f20" stroke-width="0.6"/>
<circle cx="472.4" cy="531.2" r="2.1" fill="#737373" stroke="#231f20" stroke-width="0.6"/>
<circle cx="463.5" cy="533.8" r="2.1" fill="#737373" stroke="#231f20" stroke-width="0.6"/>
<circle cx="463.5" cy="548.3" r="2.1" fill="#737373" stroke="#231f20" stroke-width="0.6"/>
<path d="M463.5 520V527.8M458.5 520H468.5M458.5 527.8H468.5" stroke="#231f20" stroke-width="0.9" fill="none"/>
<rect x="485.8" y="510.1" width="20.6" height="91.3" fill="#f02a8e" stroke="#231f20" stroke-width="0.9"/>
<circle cx="504.8" cy="495.6" r="2.1" fill="#f02a8e" stroke="#231f20" stroke-width="0.6"/>
<circle cx="496.1" cy="500.2" r="2.1" fill="#f02a8e" stroke="#231f20" stroke-width="0.6"/>
<circle cx="487.2" cy="502.9" r="2.1" fill="#f02a8e" stroke="#231f20" stroke-width="0.6"/>
<circle cx="504.8" cy="503.9" r="2.1" fill="#f02a8e" stroke="#231f20" stroke-width="0.6"/>
<circle cx="487.2" cy="509.7" r="2.1" fill="#f02a8e" stroke="#231f20" stroke-width="0.6"/>
<circle cx="504.8" cy="511.7" r="2.1" fill="#f02a8e" stroke="#231f20" stroke-width="0.6"/>
<circle cx="496.1" cy="518.4" r="2.1" fill="#f02a8e" stroke="#231f20" stroke-width="0.6"/>
<circle cx="487.2" cy="521.4" r="2.1" fill="#f02a8e" stroke="#231f20" stroke-width="0.6"/>
<circle cx="504.8" cy="519.4" r="2.1" fill="#f02a8e" stroke="#231f20" stroke-width="0.6"/>
<path d="M496.1 506.6V512.8M491.1 506.6H501.1M491.1 512.8H501.1" stroke="#231f20" stroke-width="0.9" fill="none"/>
<line x1="465.5" y1="487" x2="495.1" y2="487" stroke="#333" stroke-width="0.9"/>
<path d="M478.20 479.30L478.20 485.90M481.06 480.95L475.34 484.25M481.06 484.25L475.34 480.95" stroke="#231f20" stroke-width="1.5" fill="none"/>
<text x="541.95" y="458.2" font-size="15.71" fill="#231f20" textLength="11.64" lengthAdjust="spacingAndGlyphs" stroke="#fff" stroke-width="0.17" >G</text>
<text x="557.2" y="458.0" font-size="15.72" fill="#231f20" textLength="127.9" lengthAdjust="spacingAndGlyphs" stroke="#fff" stroke-width="0.17" >Spatial Learning</text>
<line x1="584.6" y1="487.4" x2="584.6" y2="601.9" stroke="#333" stroke-width="1"/>
<line x1="579.6" y1="601.9" x2="661.8" y2="601.9" stroke="#333" stroke-width="1"/>
<line x1="579.6" y1="601.9" x2="584.6" y2="601.9" stroke="#555" stroke-width="1"/>
<line x1="579.6" y1="579.0" x2="584.6" y2="579.0" stroke="#555" stroke-width="1"/>
<line x1="579.6" y1="556.1" x2="584.6" y2="556.1" stroke="#555" stroke-width="1"/>
<line x1="579.6" y1="533.1999999999999" x2="584.6" y2="533.1999999999999" stroke="#555" stroke-width="1"/>
<line x1="579.6" y1="510.29999999999995" x2="584.6" y2="510.29999999999995" stroke="#555" stroke-width="1"/>
<line x1="579.6" y1="487.4" x2="584.6" y2="487.4" stroke="#555" stroke-width="1"/>
<text x="571.58" y="605.0" font-size="9.0" fill="#333" textLength="5.79" lengthAdjust="spacingAndGlyphs" >0</text>
<text x="571.58" y="582.1" font-size="9.0" fill="#333" textLength="5.85" lengthAdjust="spacingAndGlyphs" >5</text>
<text x="565.93" y="559.2" font-size="9.0" fill="#333" textLength="11.46" lengthAdjust="spacingAndGlyphs" >10</text>
<text x="565.92" y="536.3" font-size="9.0" fill="#333" textLength="11.51" lengthAdjust="spacingAndGlyphs" >15</text>
<text x="566.2" y="513.4" font-size="9.0" fill="#333" textLength="11.18" lengthAdjust="spacingAndGlyphs" >20</text>
<text x="566.2" y="490.5" font-size="9.0" fill="#333" textLength="11.23" lengthAdjust="spacingAndGlyphs" >25</text>
<text transform="translate(561.1 598.7) rotate(-90)" x="-0.57" y="0" font-size="11.45" fill="#231f20" textLength="104.58" lengthAdjust="spacingAndGlyphs" stroke="#fff" stroke-width="0.13" >Swim speed(cm/s)</text>
<rect x="596.3" y="524.6" width="21.0" height="77.3" fill="#737373" stroke="#231f20" stroke-width="0.9"/>
<circle cx="606.6" cy="503.2" r="2.1" fill="#737373" stroke="#231f20" stroke-width="0.6"/>
<circle cx="606.6" cy="512.2" r="2.1" fill="#737373" stroke="#231f20" stroke-width="0.6"/>
<circle cx="615.5" cy="513.5" r="2.1" fill="#737373" stroke="#231f20" stroke-width="0.6"/>
<circle cx="598" cy="519.9" r="2.1" fill="#737373" stroke="#231f20" stroke-width="0.6"/>
<circle cx="606.6" cy="518.2" r="2.1" fill="#737373" stroke="#231f20" stroke-width="0.6"/>
<circle cx="615.5" cy="521.8" r="2.1" fill="#737373" stroke="#231f20" stroke-width="0.6"/>
<circle cx="598" cy="526.1" r="2.1" fill="#737373" stroke="#231f20" stroke-width="0.6"/>
<circle cx="606.6" cy="528.2" r="2.1" fill="#737373" stroke="#231f20" stroke-width="0.6"/>
<circle cx="598" cy="531" r="2.1" fill="#737373" stroke="#231f20" stroke-width="0.6"/>
<circle cx="615.5" cy="531.6" r="2.1" fill="#737373" stroke="#231f20" stroke-width="0.6"/>
<circle cx="606.6" cy="533.8" r="2.1" fill="#737373" stroke="#231f20" stroke-width="0.6"/>
<circle cx="606.6" cy="548.6" r="2.1" fill="#737373" stroke="#231f20" stroke-width="0.6"/>
<path d="M606.8 520.7V527.6M601.8 520.7H611.8M601.8 527.6H611.8" stroke="#231f20" stroke-width="0.9" fill="none"/>
<rect x="629.5" y="510.2" width="20.3" height="91.7" fill="#f02a8e" stroke="#231f20" stroke-width="0.9"/>
<circle cx="648.1" cy="496.1" r="2.1" fill="#f02a8e" stroke="#231f20" stroke-width="0.6"/>
<circle cx="639.1" cy="500.6" r="2.1" fill="#f02a8e" stroke="#231f20" stroke-width="0.6"/>
<circle cx="630.5" cy="503.2" r="2.1" fill="#f02a8e" stroke="#231f20" stroke-width="0.6"/>
<circle cx="648.1" cy="504.2" r="2.1" fill="#f02a8e" stroke="#231f20" stroke-width="0.6"/>
<circle cx="630.5" cy="510.2" r="2.1" fill="#f02a8e" stroke="#231f20" stroke-width="0.6"/>
<circle cx="648.1" cy="511.7" r="2.1" fill="#f02a8e" stroke="#231f20" stroke-width="0.6"/>
<circle cx="639.1" cy="519.2" r="2.1" fill="#f02a8e" stroke="#231f20" stroke-width="0.6"/>
<circle cx="630.5" cy="522" r="2.1" fill="#f02a8e" stroke="#231f20" stroke-width="0.6"/>
<circle cx="648.1" cy="520.3" r="2.1" fill="#f02a8e" stroke="#231f20" stroke-width="0.6"/>
<path d="M639.6 506.8V513.7M634.6 506.8H644.6M634.6 513.7H644.6" stroke="#231f20" stroke-width="0.9" fill="none"/>
<line x1="605.9" y1="484.3" x2="635.9" y2="484.3" stroke="#333" stroke-width="0.9"/>
<path d="M619.60 476.10L619.60 482.70M622.46 477.75L616.74 481.05M622.46 481.05L616.74 477.75" stroke="#231f20" stroke-width="1.5" fill="none"/>
</svg>
</body></html>
